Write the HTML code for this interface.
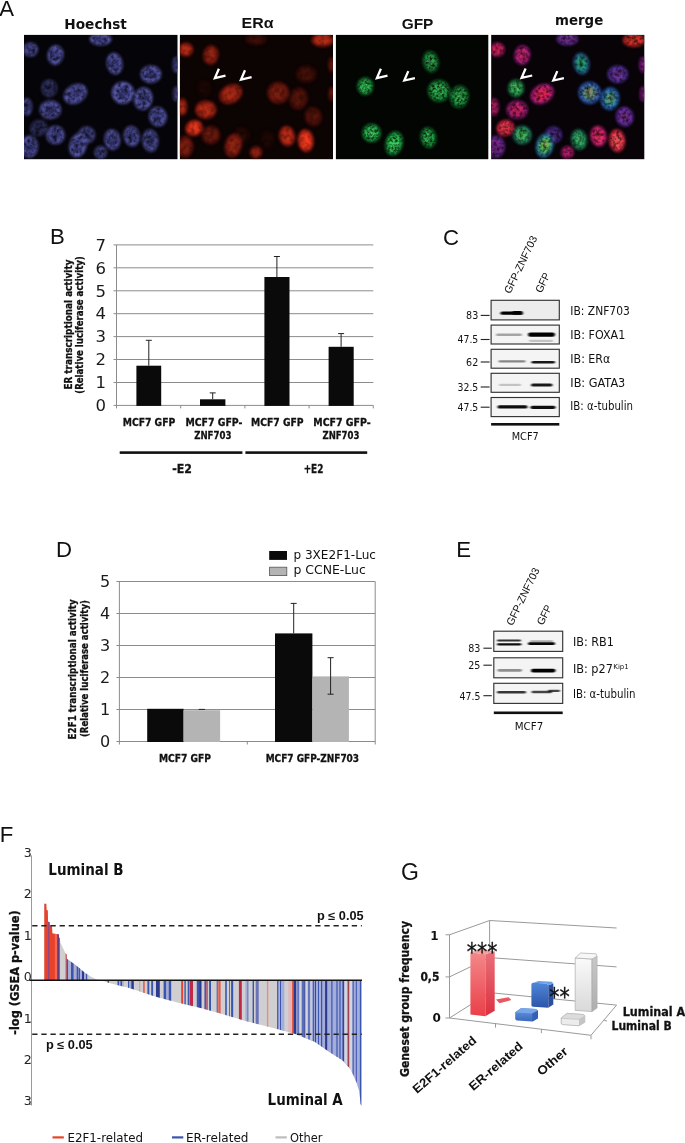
<!DOCTYPE html>
<html lang="en"><head><meta charset="utf-8"><title>Figure</title>
<style>html,body{margin:0;padding:0;background:#fff}svg{display:block}text{white-space:pre}</style>
</head><body>
<svg width="685" height="1143" viewBox="0 0 685 1143">
<rect width="685" height="1143" fill="#fff"/>
<defs><filter id="blh" x="-5%" y="-5%" width="110%" height="110%" color-interpolation-filters="sRGB"><feGaussianBlur stdDeviation="1.4" result="b"/><feTurbulence type="fractalNoise" baseFrequency="0.28" numOctaves="2" seed="4" result="n"/><feColorMatrix in="n" type="matrix" values="0 0 0 0 0  0 0 0 0 0  0 0 0 0 0  1.5 0 0 0 -0.52" result="na"/><feGaussianBlur in="na" stdDeviation="0.6" result="nb"/><feComposite in="nb" in2="b" operator="in" result="d"/><feMerge><feMergeNode in="b"/><feMergeNode in="d"/></feMerge></filter><filter id="blr" x="-5%" y="-5%" width="110%" height="110%" color-interpolation-filters="sRGB"><feGaussianBlur stdDeviation="1.4" result="b"/><feTurbulence type="fractalNoise" baseFrequency="0.2" numOctaves="2" seed="9" result="n"/><feColorMatrix in="n" type="matrix" values="0 0 0 0 0  0 0 0 0 0  0 0 0 0 0  0.9 0 0 0 -0.35" result="na"/><feGaussianBlur in="na" stdDeviation="0.6" result="nb"/><feComposite in="nb" in2="b" operator="in" result="d"/><feMerge><feMergeNode in="b"/><feMergeNode in="d"/></feMerge></filter><filter id="blg" x="-5%" y="-5%" width="110%" height="110%" color-interpolation-filters="sRGB"><feGaussianBlur stdDeviation="1.4" result="b"/><feTurbulence type="fractalNoise" baseFrequency="0.4" numOctaves="2" seed="2" result="n"/><feColorMatrix in="n" type="matrix" values="0 0 0 0 0  0 0 0 0 0  0 0 0 0 0  1.8 0 0 0 -0.62" result="na"/><feGaussianBlur in="na" stdDeviation="0.6" result="nb"/><feComposite in="nb" in2="b" operator="in" result="d"/><feMerge><feMergeNode in="b"/><feMergeNode in="d"/></feMerge></filter><filter id="blm" x="-5%" y="-5%" width="110%" height="110%" color-interpolation-filters="sRGB"><feGaussianBlur stdDeviation="1.4" result="b"/><feTurbulence type="fractalNoise" baseFrequency="0.3" numOctaves="2" seed="6" result="n"/><feColorMatrix in="n" type="matrix" values="0 0 0 0 0  0 0 0 0 0  0 0 0 0 0  1.5 0 0 0 -0.52" result="na"/><feGaussianBlur in="na" stdDeviation="0.6" result="nb"/><feComposite in="nb" in2="b" operator="in" result="d"/><feMerge><feMergeNode in="b"/><feMergeNode in="d"/></feMerge></filter></defs>
<clipPath id="cp0"><rect x="24.0" y="34.9" width="153.5" height="124.3"/></clipPath>
<rect x="24.0" y="34.9" width="153.5" height="124.3" fill="#050409"/>
<g clip-path="url(#cp0)"><g filter="url(#blh)">
<ellipse cx="30.5" cy="49.6" rx="7.3" ry="6.8" fill="rgb(89,89,170)" transform="rotate(0 30.5 49.6)"/>
<ellipse cx="30.5" cy="49.6" rx="5.0" ry="4.6" fill="rgb(61,61,128)" transform="rotate(0 30.5 49.6)"/>
<circle cx="30.7" cy="51.8" r="1.3" fill="#000" opacity="0.22"/>
<circle cx="28.5" cy="48.2" r="1.1" fill="#000" opacity="0.22"/>
<circle cx="33.7" cy="49.9" r="1.2" fill="#000" opacity="0.22"/>
<ellipse cx="55.5" cy="55.0" rx="7.8" ry="9.7" fill="rgb(94,94,180)" transform="rotate(10 55.5 55.0)"/>
<ellipse cx="55.5" cy="55.0" rx="5.3" ry="6.6" fill="rgb(65,65,135)" transform="rotate(10 55.5 55.0)"/>
<circle cx="55.9" cy="59.8" r="1.4" fill="#000" opacity="0.22"/>
<circle cx="56.7" cy="52.6" r="1.5" fill="#000" opacity="0.22"/>
<circle cx="57.2" cy="57.8" r="1.7" fill="#000" opacity="0.22"/>
<ellipse cx="100.6" cy="39.1" rx="10.9" ry="6.1" fill="rgb(94,94,180)" transform="rotate(0 100.6 39.1)"/>
<ellipse cx="100.6" cy="39.1" rx="7.4" ry="4.1" fill="rgb(65,65,135)" transform="rotate(0 100.6 39.1)"/>
<circle cx="96.3" cy="38.8" r="1.5" fill="#000" opacity="0.22"/>
<circle cx="104.7" cy="40.1" r="1.5" fill="#000" opacity="0.22"/>
<circle cx="100.2" cy="39.8" r="1.7" fill="#000" opacity="0.22"/>
<ellipse cx="114.7" cy="63.6" rx="7.8" ry="10.7" fill="rgb(94,94,180)" transform="rotate(-10 114.7 63.6)"/>
<ellipse cx="114.7" cy="63.6" rx="5.3" ry="7.3" fill="rgb(65,65,135)" transform="rotate(-10 114.7 63.6)"/>
<circle cx="111.7" cy="64.3" r="1.7" fill="#000" opacity="0.22"/>
<circle cx="113.8" cy="58.8" r="1.3" fill="#000" opacity="0.22"/>
<circle cx="115.3" cy="60.8" r="1.7" fill="#000" opacity="0.22"/>
<ellipse cx="150.9" cy="74.2" rx="10.2" ry="8.7" fill="rgb(94,94,180)" transform="rotate(0 150.9 74.2)"/>
<ellipse cx="150.9" cy="74.2" rx="6.9" ry="5.9" fill="rgb(65,65,135)" transform="rotate(0 150.9 74.2)"/>
<circle cx="151.9" cy="73.3" r="1.1" fill="#000" opacity="0.22"/>
<circle cx="151.9" cy="78.3" r="1.3" fill="#000" opacity="0.22"/>
<circle cx="149.3" cy="72.8" r="1.4" fill="#000" opacity="0.22"/>
<ellipse cx="176.1" cy="64.8" rx="3.4" ry="7.8" fill="rgb(84,84,160)" transform="rotate(0 176.1 64.8)"/>
<ellipse cx="176.1" cy="64.8" rx="2.3" ry="5.3" fill="rgb(58,58,120)" transform="rotate(0 176.1 64.8)"/>
<circle cx="175.5" cy="66.0" r="1.5" fill="#000" opacity="0.22"/>
<circle cx="174.7" cy="63.0" r="1.5" fill="#000" opacity="0.22"/>
<circle cx="177.5" cy="63.3" r="1.8" fill="#000" opacity="0.22"/>
<ellipse cx="49.2" cy="88.2" rx="7.8" ry="8.7" fill="rgb(58,58,110)" transform="rotate(0 49.2 88.2)"/>
<ellipse cx="49.2" cy="88.2" rx="5.3" ry="5.9" fill="rgb(40,40,82)" transform="rotate(0 49.2 88.2)"/>
<circle cx="48.6" cy="86.9" r="1.7" fill="#000" opacity="0.22"/>
<circle cx="52.7" cy="87.3" r="1.5" fill="#000" opacity="0.22"/>
<circle cx="48.9" cy="86.6" r="1.7" fill="#000" opacity="0.22"/>
<ellipse cx="75.4" cy="94.0" rx="12.1" ry="9.2" fill="rgb(94,94,180)" transform="rotate(-30 75.4 94.0)"/>
<ellipse cx="75.4" cy="94.0" rx="8.3" ry="6.3" fill="rgb(65,65,135)" transform="rotate(-30 75.4 94.0)"/>
<circle cx="73.1" cy="93.1" r="1.1" fill="#000" opacity="0.22"/>
<circle cx="79.1" cy="90.4" r="1.1" fill="#000" opacity="0.22"/>
<circle cx="76.4" cy="91.7" r="1.1" fill="#000" opacity="0.22"/>
<ellipse cx="122.8" cy="92.8" rx="10.9" ry="10.9" fill="rgb(100,100,190)" transform="rotate(0 122.8 92.8)"/>
<ellipse cx="122.8" cy="92.8" rx="7.4" ry="7.4" fill="rgb(68,68,142)" transform="rotate(0 122.8 92.8)"/>
<circle cx="121.6" cy="97.1" r="1.7" fill="#000" opacity="0.22"/>
<circle cx="126.5" cy="93.9" r="1.0" fill="#000" opacity="0.22"/>
<circle cx="122.3" cy="90.4" r="1.7" fill="#000" opacity="0.22"/>
<ellipse cx="143.2" cy="98.7" rx="9.2" ry="11.2" fill="rgb(94,94,180)" transform="rotate(10 143.2 98.7)"/>
<ellipse cx="143.2" cy="98.7" rx="6.3" ry="7.6" fill="rgb(65,65,135)" transform="rotate(10 143.2 98.7)"/>
<circle cx="145.9" cy="98.3" r="1.8" fill="#000" opacity="0.22"/>
<circle cx="142.7" cy="100.0" r="1.5" fill="#000" opacity="0.22"/>
<circle cx="144.8" cy="99.1" r="1.3" fill="#000" opacity="0.22"/>
<ellipse cx="176.1" cy="94.0" rx="2.9" ry="7.3" fill="rgb(84,84,160)" transform="rotate(0 176.1 94.0)"/>
<ellipse cx="176.1" cy="94.0" rx="2.0" ry="5.0" fill="rgb(58,58,120)" transform="rotate(0 176.1 94.0)"/>
<circle cx="175.7" cy="93.3" r="1.0" fill="#000" opacity="0.22"/>
<circle cx="176.5" cy="92.8" r="1.8" fill="#000" opacity="0.22"/>
<circle cx="176.7" cy="92.9" r="1.4" fill="#000" opacity="0.22"/>
<ellipse cx="27.0" cy="106.9" rx="4.9" ry="8.7" fill="rgb(84,84,160)" transform="rotate(0 27.0 106.9)"/>
<ellipse cx="27.0" cy="106.9" rx="3.3" ry="5.9" fill="rgb(58,58,120)" transform="rotate(0 27.0 106.9)"/>
<circle cx="25.3" cy="106.5" r="1.5" fill="#000" opacity="0.22"/>
<circle cx="25.5" cy="105.8" r="1.8" fill="#000" opacity="0.22"/>
<circle cx="25.7" cy="106.8" r="1.6" fill="#000" opacity="0.22"/>
<ellipse cx="50.4" cy="109.7" rx="10.7" ry="9.2" fill="rgb(89,89,170)" transform="rotate(0 50.4 109.7)"/>
<ellipse cx="50.4" cy="109.7" rx="7.3" ry="6.3" fill="rgb(61,61,128)" transform="rotate(0 50.4 109.7)"/>
<circle cx="50.6" cy="111.7" r="1.8" fill="#000" opacity="0.22"/>
<circle cx="47.0" cy="109.3" r="1.0" fill="#000" opacity="0.22"/>
<circle cx="47.3" cy="111.2" r="1.0" fill="#000" opacity="0.22"/>
<ellipse cx="157.9" cy="116.7" rx="8.7" ry="9.7" fill="rgb(94,94,180)" transform="rotate(-15 157.9 116.7)"/>
<ellipse cx="157.9" cy="116.7" rx="5.9" ry="6.6" fill="rgb(65,65,135)" transform="rotate(-15 157.9 116.7)"/>
<circle cx="155.6" cy="114.4" r="1.0" fill="#000" opacity="0.22"/>
<circle cx="156.1" cy="114.7" r="1.5" fill="#000" opacity="0.22"/>
<circle cx="155.9" cy="119.6" r="1.6" fill="#000" opacity="0.22"/>
<ellipse cx="38.7" cy="127.9" rx="8.7" ry="7.8" fill="rgb(52,52,100)" transform="rotate(-20 38.7 127.9)"/>
<ellipse cx="38.7" cy="127.9" rx="5.9" ry="5.3" fill="rgb(36,36,75)" transform="rotate(-20 38.7 127.9)"/>
<circle cx="39.8" cy="128.0" r="1.5" fill="#000" opacity="0.22"/>
<circle cx="40.4" cy="127.5" r="1.4" fill="#000" opacity="0.22"/>
<circle cx="37.1" cy="126.9" r="1.3" fill="#000" opacity="0.22"/>
<ellipse cx="55.5" cy="134.9" rx="9.2" ry="9.2" fill="rgb(89,89,170)" transform="rotate(0 55.5 134.9)"/>
<ellipse cx="55.5" cy="134.9" rx="6.3" ry="6.3" fill="rgb(61,61,128)" transform="rotate(0 55.5 134.9)"/>
<circle cx="54.7" cy="137.0" r="1.5" fill="#000" opacity="0.22"/>
<circle cx="54.8" cy="137.1" r="1.6" fill="#000" opacity="0.22"/>
<circle cx="58.5" cy="135.4" r="1.6" fill="#000" opacity="0.22"/>
<ellipse cx="86.6" cy="134.9" rx="8.5" ry="8.5" fill="rgb(74,74,140)" transform="rotate(0 86.6 134.9)"/>
<ellipse cx="86.6" cy="134.9" rx="5.8" ry="5.8" fill="rgb(50,50,105)" transform="rotate(0 86.6 134.9)"/>
<circle cx="86.0" cy="136.4" r="1.6" fill="#000" opacity="0.22"/>
<circle cx="86.7" cy="136.4" r="1.3" fill="#000" opacity="0.22"/>
<circle cx="86.2" cy="133.8" r="1.3" fill="#000" opacity="0.22"/>
<ellipse cx="78.0" cy="145.4" rx="8.5" ry="12.1" fill="rgb(94,94,180)" transform="rotate(15 78.0 145.4)"/>
<ellipse cx="78.0" cy="145.4" rx="5.8" ry="8.3" fill="rgb(65,65,135)" transform="rotate(15 78.0 145.4)"/>
<circle cx="76.1" cy="150.0" r="1.4" fill="#000" opacity="0.22"/>
<circle cx="78.8" cy="143.8" r="1.3" fill="#000" opacity="0.22"/>
<circle cx="75.7" cy="140.9" r="1.4" fill="#000" opacity="0.22"/>
<ellipse cx="112.3" cy="139.6" rx="7.8" ry="10.2" fill="rgb(89,89,170)" transform="rotate(-10 112.3 139.6)"/>
<ellipse cx="112.3" cy="139.6" rx="5.3" ry="6.9" fill="rgb(61,61,128)" transform="rotate(-10 112.3 139.6)"/>
<circle cx="112.5" cy="141.1" r="1.4" fill="#000" opacity="0.22"/>
<circle cx="113.5" cy="143.6" r="1.7" fill="#000" opacity="0.22"/>
<circle cx="113.0" cy="141.5" r="1.6" fill="#000" opacity="0.22"/>
<ellipse cx="131.7" cy="136.1" rx="7.8" ry="10.2" fill="rgb(89,89,170)" transform="rotate(-10 131.7 136.1)"/>
<ellipse cx="131.7" cy="136.1" rx="5.3" ry="6.9" fill="rgb(61,61,128)" transform="rotate(-10 131.7 136.1)"/>
<circle cx="129.6" cy="132.7" r="1.3" fill="#000" opacity="0.22"/>
<circle cx="132.9" cy="137.7" r="1.6" fill="#000" opacity="0.22"/>
<circle cx="131.5" cy="138.5" r="1.3" fill="#000" opacity="0.22"/>
<ellipse cx="150.4" cy="140.7" rx="7.8" ry="11.2" fill="rgb(84,84,160)" transform="rotate(-5 150.4 140.7)"/>
<ellipse cx="150.4" cy="140.7" rx="5.3" ry="7.6" fill="rgb(58,58,120)" transform="rotate(-5 150.4 140.7)"/>
<circle cx="148.6" cy="142.2" r="1.7" fill="#000" opacity="0.22"/>
<circle cx="150.8" cy="141.7" r="1.8" fill="#000" opacity="0.22"/>
<circle cx="153.2" cy="137.0" r="1.3" fill="#000" opacity="0.22"/>
<ellipse cx="29.4" cy="146.6" rx="8.5" ry="10.9" fill="rgb(89,89,170)" transform="rotate(0 29.4 146.6)"/>
<ellipse cx="29.4" cy="146.6" rx="5.8" ry="7.4" fill="rgb(61,61,128)" transform="rotate(0 29.4 146.6)"/>
<circle cx="33.2" cy="145.0" r="1.2" fill="#000" opacity="0.22"/>
<circle cx="29.3" cy="141.8" r="1.5" fill="#000" opacity="0.22"/>
<circle cx="27.6" cy="146.3" r="1.3" fill="#000" opacity="0.22"/>
<ellipse cx="100.6" cy="152.4" rx="6.1" ry="6.1" fill="rgb(84,84,160)" transform="rotate(0 100.6 152.4)"/>
<ellipse cx="100.6" cy="152.4" rx="4.1" ry="4.1" fill="rgb(58,58,120)" transform="rotate(0 100.6 152.4)"/>
<circle cx="100.7" cy="153.2" r="1.5" fill="#000" opacity="0.22"/>
<circle cx="100.0" cy="154.9" r="1.0" fill="#000" opacity="0.22"/>
<circle cx="102.5" cy="151.1" r="1.7" fill="#000" opacity="0.22"/>
</g>
</g>
<clipPath id="cp1"><rect x="179.9" y="34.9" width="153.1" height="124.3"/></clipPath>
<rect x="179.9" y="34.9" width="153.1" height="124.3" fill="#0c0303"/>
<g clip-path="url(#cp1)"><g filter="url(#blr)">
<ellipse cx="185.9" cy="49.6" rx="7.3" ry="6.8" fill="rgb(142,28,16)" transform="rotate(0 185.9 49.6)"/>
<ellipse cx="185.9" cy="49.6" rx="5.0" ry="4.6" fill="rgb(180,44,22)" transform="rotate(0 185.9 49.6)"/>
<ellipse cx="210.9" cy="55.0" rx="7.8" ry="9.7" fill="rgb(114,23,13)" transform="rotate(10 210.9 55.0)"/>
<ellipse cx="210.9" cy="55.0" rx="5.3" ry="6.6" fill="rgb(144,35,18)" transform="rotate(10 210.9 55.0)"/>
<ellipse cx="256.0" cy="39.1" rx="10.9" ry="6.1" fill="rgb(48,10,6)" transform="rotate(0 256.0 39.1)"/>
<ellipse cx="256.0" cy="39.1" rx="7.4" ry="4.1" fill="rgb(60,14,8)" transform="rotate(0 256.0 39.1)"/>
<ellipse cx="306.3" cy="74.2" rx="10.2" ry="8.7" fill="rgb(53,11,6)" transform="rotate(0 306.3 74.2)"/>
<ellipse cx="306.3" cy="74.2" rx="6.9" ry="5.9" fill="rgb(67,16,8)" transform="rotate(0 306.3 74.2)"/>
<ellipse cx="331.5" cy="64.8" rx="3.4" ry="7.8" fill="rgb(76,15,9)" transform="rotate(0 331.5 64.8)"/>
<ellipse cx="331.5" cy="64.8" rx="2.3" ry="5.3" fill="rgb(96,23,12)" transform="rotate(0 331.5 64.8)"/>
<ellipse cx="204.6" cy="88.2" rx="7.8" ry="8.7" fill="rgb(23,5,3)" transform="rotate(0 204.6 88.2)"/>
<ellipse cx="204.6" cy="88.2" rx="5.3" ry="5.9" fill="rgb(29,7,4)" transform="rotate(0 204.6 88.2)"/>
<ellipse cx="230.8" cy="94.0" rx="12.1" ry="9.2" fill="rgb(133,27,15)" transform="rotate(-30 230.8 94.0)"/>
<ellipse cx="230.8" cy="94.0" rx="8.3" ry="6.3" fill="rgb(168,41,21)" transform="rotate(-30 230.8 94.0)"/>
<ellipse cx="278.2" cy="92.8" rx="10.9" ry="10.9" fill="rgb(95,19,11)" transform="rotate(0 278.2 92.8)"/>
<ellipse cx="278.2" cy="92.8" rx="7.4" ry="7.4" fill="rgb(120,29,15)" transform="rotate(0 278.2 92.8)"/>
<ellipse cx="298.6" cy="98.7" rx="9.2" ry="11.2" fill="rgb(66,13,8)" transform="rotate(10 298.6 98.7)"/>
<ellipse cx="298.6" cy="98.7" rx="6.3" ry="7.6" fill="rgb(84,20,10)" transform="rotate(10 298.6 98.7)"/>
<ellipse cx="331.5" cy="94.0" rx="2.9" ry="7.3" fill="rgb(86,17,10)" transform="rotate(0 331.5 94.0)"/>
<ellipse cx="331.5" cy="94.0" rx="2.0" ry="5.0" fill="rgb(108,26,14)" transform="rotate(0 331.5 94.0)"/>
<ellipse cx="182.4" cy="106.9" rx="4.9" ry="8.7" fill="rgb(133,27,15)" transform="rotate(0 182.4 106.9)"/>
<ellipse cx="182.4" cy="106.9" rx="3.3" ry="5.9" fill="rgb(168,41,21)" transform="rotate(0 182.4 106.9)"/>
<ellipse cx="205.8" cy="109.7" rx="10.7" ry="9.2" fill="rgb(142,28,16)" transform="rotate(0 205.8 109.7)"/>
<ellipse cx="205.8" cy="109.7" rx="7.3" ry="6.3" fill="rgb(180,44,22)" transform="rotate(0 205.8 109.7)"/>
<ellipse cx="313.3" cy="116.7" rx="8.7" ry="9.7" fill="rgb(66,13,8)" transform="rotate(-15 313.3 116.7)"/>
<ellipse cx="313.3" cy="116.7" rx="5.9" ry="6.6" fill="rgb(84,20,10)" transform="rotate(-15 313.3 116.7)"/>
<ellipse cx="194.1" cy="127.9" rx="8.7" ry="7.8" fill="rgb(180,36,21)" transform="rotate(-20 194.1 127.9)"/>
<ellipse cx="194.1" cy="127.9" rx="5.9" ry="5.3" fill="rgb(228,55,28)" transform="rotate(-20 194.1 127.9)"/>
<ellipse cx="210.9" cy="134.9" rx="9.2" ry="9.2" fill="rgb(86,17,10)" transform="rotate(0 210.9 134.9)"/>
<ellipse cx="210.9" cy="134.9" rx="6.3" ry="6.3" fill="rgb(108,26,14)" transform="rotate(0 210.9 134.9)"/>
<ellipse cx="242.0" cy="134.9" rx="8.5" ry="8.5" fill="rgb(28,6,3)" transform="rotate(0 242.0 134.9)"/>
<ellipse cx="242.0" cy="134.9" rx="5.8" ry="5.8" fill="rgb(36,9,4)" transform="rotate(0 242.0 134.9)"/>
<ellipse cx="233.4" cy="145.4" rx="8.5" ry="12.1" fill="rgb(114,23,13)" transform="rotate(15 233.4 145.4)"/>
<ellipse cx="233.4" cy="145.4" rx="5.8" ry="8.3" fill="rgb(144,35,18)" transform="rotate(15 233.4 145.4)"/>
<ellipse cx="267.7" cy="139.6" rx="7.8" ry="10.2" fill="rgb(23,5,3)" transform="rotate(-10 267.7 139.6)"/>
<ellipse cx="267.7" cy="139.6" rx="5.3" ry="6.9" fill="rgb(29,7,4)" transform="rotate(-10 267.7 139.6)"/>
<ellipse cx="287.1" cy="136.1" rx="7.8" ry="10.2" fill="rgb(152,30,18)" transform="rotate(-10 287.1 136.1)"/>
<ellipse cx="287.1" cy="136.1" rx="5.3" ry="6.9" fill="rgb(192,46,24)" transform="rotate(-10 287.1 136.1)"/>
<ellipse cx="305.8" cy="140.7" rx="7.8" ry="11.2" fill="rgb(190,38,22)" transform="rotate(-5 305.8 140.7)"/>
<ellipse cx="305.8" cy="140.7" rx="5.3" ry="7.6" fill="rgb(240,58,30)" transform="rotate(-5 305.8 140.7)"/>
<ellipse cx="184.8" cy="146.6" rx="8.5" ry="10.9" fill="rgb(95,19,11)" transform="rotate(0 184.8 146.6)"/>
<ellipse cx="184.8" cy="146.6" rx="5.8" ry="7.4" fill="rgb(120,29,15)" transform="rotate(0 184.8 146.6)"/>
<ellipse cx="256.0" cy="152.4" rx="6.1" ry="6.1" fill="rgb(114,23,13)" transform="rotate(0 256.0 152.4)"/>
<ellipse cx="256.0" cy="152.4" rx="4.1" ry="4.1" fill="rgb(144,35,18)" transform="rotate(0 256.0 152.4)"/>
<ellipse cx="322.6" cy="40.0" rx="11.2" ry="6.8" fill="rgb(142,28,16)" transform="rotate(0 322.6 40.0)"/>
<ellipse cx="322.6" cy="40.0" rx="7.6" ry="4.6" fill="rgb(180,44,22)" transform="rotate(0 322.6 40.0)"/>
</g>
<polyline points="218.9,68.7 214.9,78.1 225.5,75.7" fill="none" stroke="#fff" stroke-width="2.3" stroke-linejoin="miter"/>
<polyline points="245.0,70.2 241.0,79.6 251.6,77.2" fill="none" stroke="#fff" stroke-width="2.3" stroke-linejoin="miter"/>
</g>
<clipPath id="cp2"><rect x="335.9" y="34.9" width="152.4" height="124.3"/></clipPath>
<rect x="335.9" y="34.9" width="152.4" height="124.3" fill="#020502"/>
<g clip-path="url(#cp2)"><g filter="url(#blg)">
<ellipse cx="430.8" cy="61.6" rx="7.8" ry="10.7" fill="rgb(19,112,45)" transform="rotate(-10 430.8 61.6)"/>
<ellipse cx="430.8" cy="61.6" rx="5.3" ry="7.3" fill="rgb(38,150,68)" transform="rotate(-10 430.8 61.6)"/>
<circle cx="431.0" cy="66.0" r="0.8" fill="#8f8" opacity="0.5"/>
<circle cx="428.3" cy="65.2" r="0.8" fill="#8f8" opacity="0.5"/>
<circle cx="430.5" cy="61.3" r="0.8" fill="#8f8" opacity="0.5"/>
<circle cx="435.6" cy="62.2" r="0.8" fill="#8f8" opacity="0.5"/>
<circle cx="430.7" cy="63.5" r="0.8" fill="#8f8" opacity="0.5"/>
<circle cx="433.5" cy="61.5" r="0.8" fill="#8f8" opacity="0.5"/>
<circle cx="432.2" cy="58.4" r="0.8" fill="#8f8" opacity="0.5"/>
<circle cx="430.2" cy="60.7" r="0.8" fill="#8f8" opacity="0.5"/>
<circle cx="427.4" cy="56.4" r="0.8" fill="#8f8" opacity="0.5"/>
<circle cx="426.5" cy="60.8" r="0.8" fill="#8f8" opacity="0.5"/>
<ellipse cx="365.3" cy="86.2" rx="7.8" ry="8.7" fill="rgb(24,142,57)" transform="rotate(0 365.3 86.2)"/>
<ellipse cx="365.3" cy="86.2" rx="5.3" ry="5.9" fill="rgb(48,190,86)" transform="rotate(0 365.3 86.2)"/>
<circle cx="365.2" cy="85.8" r="0.8" fill="#8f8" opacity="0.5"/>
<circle cx="365.5" cy="82.3" r="0.8" fill="#8f8" opacity="0.5"/>
<circle cx="365.3" cy="86.4" r="0.8" fill="#8f8" opacity="0.5"/>
<circle cx="367.2" cy="83.9" r="0.8" fill="#8f8" opacity="0.5"/>
<circle cx="364.3" cy="80.5" r="0.8" fill="#8f8" opacity="0.5"/>
<circle cx="364.1" cy="80.3" r="0.8" fill="#8f8" opacity="0.5"/>
<circle cx="361.6" cy="89.4" r="0.8" fill="#8f8" opacity="0.5"/>
<circle cx="360.2" cy="88.3" r="0.8" fill="#8f8" opacity="0.5"/>
<circle cx="365.7" cy="85.7" r="0.8" fill="#8f8" opacity="0.5"/>
<circle cx="366.2" cy="87.2" r="0.8" fill="#8f8" opacity="0.5"/>
<ellipse cx="438.9" cy="90.8" rx="10.9" ry="10.9" fill="rgb(21,128,51)" transform="rotate(0 438.9 90.8)"/>
<ellipse cx="438.9" cy="90.8" rx="7.4" ry="7.4" fill="rgb(42,170,76)" transform="rotate(0 438.9 90.8)"/>
<circle cx="442.4" cy="90.1" r="0.8" fill="#8f8" opacity="0.5"/>
<circle cx="437.2" cy="89.1" r="0.8" fill="#8f8" opacity="0.5"/>
<circle cx="435.8" cy="90.7" r="0.8" fill="#8f8" opacity="0.5"/>
<circle cx="436.1" cy="94.7" r="0.8" fill="#8f8" opacity="0.5"/>
<circle cx="432.5" cy="87.1" r="0.8" fill="#8f8" opacity="0.5"/>
<circle cx="435.8" cy="83.9" r="0.8" fill="#8f8" opacity="0.5"/>
<circle cx="444.0" cy="84.5" r="0.8" fill="#8f8" opacity="0.5"/>
<circle cx="438.3" cy="89.7" r="0.8" fill="#8f8" opacity="0.5"/>
<circle cx="444.0" cy="84.8" r="0.8" fill="#8f8" opacity="0.5"/>
<circle cx="442.8" cy="88.2" r="0.8" fill="#8f8" opacity="0.5"/>
<ellipse cx="459.3" cy="96.7" rx="9.2" ry="11.2" fill="rgb(20,120,48)" transform="rotate(10 459.3 96.7)"/>
<ellipse cx="459.3" cy="96.7" rx="6.3" ry="7.6" fill="rgb(40,160,72)" transform="rotate(10 459.3 96.7)"/>
<circle cx="458.9" cy="95.0" r="0.8" fill="#8f8" opacity="0.5"/>
<circle cx="461.2" cy="92.5" r="0.8" fill="#8f8" opacity="0.5"/>
<circle cx="459.2" cy="97.2" r="0.8" fill="#8f8" opacity="0.5"/>
<circle cx="463.4" cy="90.1" r="0.8" fill="#8f8" opacity="0.5"/>
<circle cx="464.0" cy="100.2" r="0.8" fill="#8f8" opacity="0.5"/>
<circle cx="458.4" cy="97.4" r="0.8" fill="#8f8" opacity="0.5"/>
<circle cx="457.8" cy="102.9" r="0.8" fill="#8f8" opacity="0.5"/>
<circle cx="459.5" cy="96.4" r="0.8" fill="#8f8" opacity="0.5"/>
<circle cx="459.0" cy="96.4" r="0.8" fill="#8f8" opacity="0.5"/>
<circle cx="458.8" cy="94.0" r="0.8" fill="#8f8" opacity="0.5"/>
<ellipse cx="371.6" cy="132.9" rx="9.2" ry="9.2" fill="rgb(24,142,57)" transform="rotate(0 371.6 132.9)"/>
<ellipse cx="371.6" cy="132.9" rx="6.3" ry="6.3" fill="rgb(48,190,86)" transform="rotate(0 371.6 132.9)"/>
<circle cx="376.6" cy="128.3" r="0.8" fill="#8f8" opacity="0.5"/>
<circle cx="364.7" cy="132.7" r="0.8" fill="#8f8" opacity="0.5"/>
<circle cx="371.4" cy="133.4" r="0.8" fill="#8f8" opacity="0.5"/>
<circle cx="371.5" cy="132.8" r="0.8" fill="#8f8" opacity="0.5"/>
<circle cx="372.6" cy="135.6" r="0.8" fill="#8f8" opacity="0.5"/>
<circle cx="370.8" cy="132.2" r="0.8" fill="#8f8" opacity="0.5"/>
<circle cx="377.4" cy="134.5" r="0.8" fill="#8f8" opacity="0.5"/>
<circle cx="369.0" cy="139.0" r="0.8" fill="#8f8" opacity="0.5"/>
<circle cx="373.7" cy="131.3" r="0.8" fill="#8f8" opacity="0.5"/>
<circle cx="368.2" cy="133.8" r="0.8" fill="#8f8" opacity="0.5"/>
<ellipse cx="394.1" cy="143.4" rx="8.5" ry="12.1" fill="rgb(25,150,60)" transform="rotate(15 394.1 143.4)"/>
<ellipse cx="394.1" cy="143.4" rx="5.8" ry="8.3" fill="rgb(50,200,90)" transform="rotate(15 394.1 143.4)"/>
<circle cx="391.7" cy="139.1" r="0.8" fill="#8f8" opacity="0.5"/>
<circle cx="390.4" cy="141.4" r="0.8" fill="#8f8" opacity="0.5"/>
<circle cx="397.1" cy="141.7" r="0.8" fill="#8f8" opacity="0.5"/>
<circle cx="389.9" cy="146.2" r="0.8" fill="#8f8" opacity="0.5"/>
<circle cx="394.2" cy="146.1" r="0.8" fill="#8f8" opacity="0.5"/>
<circle cx="397.4" cy="142.8" r="0.8" fill="#8f8" opacity="0.5"/>
<circle cx="394.0" cy="143.4" r="0.8" fill="#8f8" opacity="0.5"/>
<circle cx="390.9" cy="146.1" r="0.8" fill="#8f8" opacity="0.5"/>
<circle cx="398.0" cy="144.1" r="0.8" fill="#8f8" opacity="0.5"/>
<circle cx="393.8" cy="143.0" r="0.8" fill="#8f8" opacity="0.5"/>
<ellipse cx="428.4" cy="137.6" rx="7.8" ry="10.2" fill="rgb(21,128,51)" transform="rotate(-10 428.4 137.6)"/>
<ellipse cx="428.4" cy="137.6" rx="5.3" ry="6.9" fill="rgb(42,170,76)" transform="rotate(-10 428.4 137.6)"/>
<circle cx="426.5" cy="135.0" r="0.8" fill="#8f8" opacity="0.5"/>
<circle cx="427.5" cy="135.1" r="0.8" fill="#8f8" opacity="0.5"/>
<circle cx="427.3" cy="132.1" r="0.8" fill="#8f8" opacity="0.5"/>
<circle cx="428.8" cy="137.6" r="0.8" fill="#8f8" opacity="0.5"/>
<circle cx="425.9" cy="131.0" r="0.8" fill="#8f8" opacity="0.5"/>
<circle cx="428.4" cy="141.1" r="0.8" fill="#8f8" opacity="0.5"/>
<circle cx="426.9" cy="136.2" r="0.8" fill="#8f8" opacity="0.5"/>
<circle cx="427.2" cy="139.4" r="0.8" fill="#8f8" opacity="0.5"/>
<circle cx="426.1" cy="140.9" r="0.8" fill="#8f8" opacity="0.5"/>
<circle cx="427.7" cy="140.3" r="0.8" fill="#8f8" opacity="0.5"/>
</g>
<polyline points="380.9,68.7 376.9,78.1 387.5,75.7" fill="none" stroke="#fff" stroke-width="2.3" stroke-linejoin="miter"/>
<polyline points="408.3,71.1 404.3,80.5 414.9,78.1" fill="none" stroke="#fff" stroke-width="2.3" stroke-linejoin="miter"/>
</g>
<clipPath id="cp3"><rect x="491.2" y="34.9" width="153.1" height="124.3"/></clipPath>
<rect x="491.2" y="34.9" width="153.1" height="124.3" fill="#070307"/>
<g clip-path="url(#cp3)"><g filter="url(#blm)">
<ellipse cx="497.3" cy="49.6" rx="7.3" ry="6.8" fill="rgb(185,30,110)" transform="rotate(0 497.3 49.6)"/>
<ellipse cx="497.3" cy="49.6" rx="5.0" ry="4.6" fill="rgb(215,35,90)" transform="rotate(0 497.3 49.6)"/>
<circle cx="497.5" cy="51.8" r="1.3" fill="#000" opacity="0.22"/>
<circle cx="495.3" cy="48.2" r="1.1" fill="#000" opacity="0.22"/>
<circle cx="500.5" cy="49.9" r="1.2" fill="#000" opacity="0.22"/>
<ellipse cx="522.3" cy="55.0" rx="7.8" ry="9.7" fill="rgb(165,30,130)" transform="rotate(10 522.3 55.0)"/>
<ellipse cx="522.3" cy="55.0" rx="5.3" ry="6.6" fill="rgb(200,40,110)" transform="rotate(10 522.3 55.0)"/>
<circle cx="522.7" cy="59.8" r="1.4" fill="#000" opacity="0.22"/>
<circle cx="523.5" cy="52.6" r="1.5" fill="#000" opacity="0.22"/>
<circle cx="524.0" cy="57.8" r="1.7" fill="#000" opacity="0.22"/>
<ellipse cx="567.4" cy="39.1" rx="10.9" ry="6.1" fill="rgb(100,45,150)" transform="rotate(0 567.4 39.1)"/>
<ellipse cx="567.4" cy="39.1" rx="7.4" ry="4.1" fill="rgb(120,50,150)" transform="rotate(0 567.4 39.1)"/>
<circle cx="563.1" cy="38.8" r="1.5" fill="#000" opacity="0.22"/>
<circle cx="571.5" cy="40.1" r="1.5" fill="#000" opacity="0.22"/>
<circle cx="567.0" cy="39.8" r="1.7" fill="#000" opacity="0.22"/>
<ellipse cx="581.5" cy="63.6" rx="7.8" ry="10.7" fill="rgb(40,105,160)" transform="rotate(-10 581.5 63.6)"/>
<ellipse cx="581.5" cy="63.6" rx="5.3" ry="7.3" fill="rgb(30,150,110)" transform="rotate(-10 581.5 63.6)"/>
<circle cx="578.5" cy="64.3" r="1.7" fill="#000" opacity="0.22"/>
<circle cx="580.6" cy="58.8" r="1.3" fill="#000" opacity="0.22"/>
<circle cx="582.1" cy="60.8" r="1.7" fill="#000" opacity="0.22"/>
<circle cx="581.9" cy="63.1" r="0.8" fill="#8f8" opacity="0.5"/>
<circle cx="582.3" cy="65.0" r="0.8" fill="#8f8" opacity="0.5"/>
<circle cx="583.9" cy="62.9" r="0.8" fill="#8f8" opacity="0.5"/>
<circle cx="580.2" cy="61.9" r="0.8" fill="#8f8" opacity="0.5"/>
<circle cx="579.2" cy="63.5" r="0.8" fill="#8f8" opacity="0.5"/>
<circle cx="579.4" cy="67.4" r="0.8" fill="#8f8" opacity="0.5"/>
<circle cx="576.9" cy="60.0" r="0.8" fill="#8f8" opacity="0.5"/>
<circle cx="579.2" cy="56.9" r="0.8" fill="#8f8" opacity="0.5"/>
<circle cx="585.0" cy="57.4" r="0.8" fill="#8f8" opacity="0.5"/>
<circle cx="581.0" cy="62.5" r="0.8" fill="#8f8" opacity="0.5"/>
<ellipse cx="617.7" cy="74.2" rx="10.2" ry="8.7" fill="rgb(85,50,165)" transform="rotate(0 617.7 74.2)"/>
<ellipse cx="617.7" cy="74.2" rx="6.9" ry="5.9" fill="rgb(105,50,150)" transform="rotate(0 617.7 74.2)"/>
<circle cx="620.8" cy="70.9" r="1.7" fill="#000" opacity="0.22"/>
<circle cx="614.1" cy="72.7" r="1.2" fill="#000" opacity="0.22"/>
<circle cx="619.3" cy="71.6" r="1.2" fill="#000" opacity="0.22"/>
<ellipse cx="642.9" cy="64.8" rx="3.4" ry="7.8" fill="rgb(150,30,150)" transform="rotate(0 642.9 64.8)"/>
<ellipse cx="642.9" cy="64.8" rx="2.3" ry="5.3" fill="rgb(150,30,150)" transform="rotate(0 642.9 64.8)"/>
<circle cx="644.3" cy="66.1" r="1.8" fill="#000" opacity="0.22"/>
<circle cx="644.1" cy="66.5" r="1.3" fill="#000" opacity="0.22"/>
<circle cx="643.3" cy="66.2" r="1.6" fill="#000" opacity="0.22"/>
<ellipse cx="516.0" cy="88.2" rx="7.8" ry="8.7" fill="rgb(30,135,70)" transform="rotate(0 516.0 88.2)"/>
<ellipse cx="516.0" cy="88.2" rx="5.3" ry="5.9" fill="rgb(60,190,95)" transform="rotate(0 516.0 88.2)"/>
<circle cx="516.7" cy="87.4" r="1.5" fill="#000" opacity="0.22"/>
<circle cx="518.9" cy="89.1" r="1.3" fill="#000" opacity="0.22"/>
<circle cx="518.8" cy="85.2" r="1.4" fill="#000" opacity="0.22"/>
<circle cx="517.8" cy="88.2" r="0.8" fill="#8f8" opacity="0.5"/>
<circle cx="519.1" cy="90.0" r="0.8" fill="#8f8" opacity="0.5"/>
<circle cx="517.2" cy="88.4" r="0.8" fill="#8f8" opacity="0.5"/>
<circle cx="513.1" cy="90.4" r="0.8" fill="#8f8" opacity="0.5"/>
<circle cx="516.2" cy="88.4" r="0.8" fill="#8f8" opacity="0.5"/>
<circle cx="517.3" cy="86.7" r="0.8" fill="#8f8" opacity="0.5"/>
<circle cx="521.1" cy="86.7" r="0.8" fill="#8f8" opacity="0.5"/>
<circle cx="514.1" cy="90.3" r="0.8" fill="#8f8" opacity="0.5"/>
<circle cx="512.3" cy="87.6" r="0.8" fill="#8f8" opacity="0.5"/>
<circle cx="513.3" cy="86.1" r="0.8" fill="#8f8" opacity="0.5"/>
<ellipse cx="542.2" cy="94.0" rx="12.1" ry="9.2" fill="rgb(185,30,130)" transform="rotate(-30 542.2 94.0)"/>
<ellipse cx="542.2" cy="94.0" rx="8.3" ry="6.3" fill="rgb(225,35,85)" transform="rotate(-30 542.2 94.0)"/>
<circle cx="538.0" cy="91.0" r="1.4" fill="#000" opacity="0.22"/>
<circle cx="537.9" cy="95.5" r="1.2" fill="#000" opacity="0.22"/>
<circle cx="540.3" cy="98.3" r="1.4" fill="#000" opacity="0.22"/>
<ellipse cx="589.6" cy="92.8" rx="10.9" ry="10.9" fill="rgb(50,100,200)" transform="rotate(0 589.6 92.8)"/>
<ellipse cx="589.6" cy="92.8" rx="7.4" ry="7.4" fill="rgb(100,135,120)" transform="rotate(0 589.6 92.8)"/>
<circle cx="588.5" cy="92.5" r="1.3" fill="#000" opacity="0.22"/>
<circle cx="588.6" cy="92.3" r="1.5" fill="#000" opacity="0.22"/>
<circle cx="588.7" cy="91.8" r="1.5" fill="#000" opacity="0.22"/>
<circle cx="584.2" cy="94.0" r="0.8" fill="#8f8" opacity="0.5"/>
<circle cx="586.1" cy="97.5" r="0.8" fill="#8f8" opacity="0.5"/>
<circle cx="589.6" cy="92.7" r="0.8" fill="#8f8" opacity="0.5"/>
<circle cx="594.8" cy="94.9" r="0.8" fill="#8f8" opacity="0.5"/>
<circle cx="591.6" cy="92.4" r="0.8" fill="#8f8" opacity="0.5"/>
<circle cx="585.0" cy="94.2" r="0.8" fill="#8f8" opacity="0.5"/>
<circle cx="588.4" cy="95.5" r="0.8" fill="#8f8" opacity="0.5"/>
<circle cx="588.5" cy="95.6" r="0.8" fill="#8f8" opacity="0.5"/>
<circle cx="587.6" cy="91.5" r="0.8" fill="#8f8" opacity="0.5"/>
<circle cx="585.1" cy="97.3" r="0.8" fill="#8f8" opacity="0.5"/>
<circle cx="589.6" cy="91.8" r="1.8" fill="#d84" opacity="0.8"/>
<ellipse cx="610.0" cy="98.7" rx="9.2" ry="11.2" fill="rgb(40,105,200)" transform="rotate(10 610.0 98.7)"/>
<ellipse cx="610.0" cy="98.7" rx="6.3" ry="7.6" fill="rgb(65,150,140)" transform="rotate(10 610.0 98.7)"/>
<circle cx="612.9" cy="99.3" r="1.6" fill="#000" opacity="0.22"/>
<circle cx="609.3" cy="100.6" r="1.6" fill="#000" opacity="0.22"/>
<circle cx="610.1" cy="100.6" r="1.3" fill="#000" opacity="0.22"/>
<circle cx="609.7" cy="97.9" r="0.8" fill="#8f8" opacity="0.5"/>
<circle cx="608.9" cy="101.2" r="0.8" fill="#8f8" opacity="0.5"/>
<circle cx="611.5" cy="95.5" r="0.8" fill="#8f8" opacity="0.5"/>
<circle cx="610.7" cy="97.6" r="0.8" fill="#8f8" opacity="0.5"/>
<circle cx="607.6" cy="103.3" r="0.8" fill="#8f8" opacity="0.5"/>
<circle cx="612.3" cy="96.2" r="0.8" fill="#8f8" opacity="0.5"/>
<circle cx="610.1" cy="99.7" r="0.8" fill="#8f8" opacity="0.5"/>
<circle cx="608.7" cy="98.4" r="0.8" fill="#8f8" opacity="0.5"/>
<circle cx="612.0" cy="92.1" r="0.8" fill="#8f8" opacity="0.5"/>
<circle cx="610.7" cy="100.8" r="0.8" fill="#8f8" opacity="0.5"/>
<circle cx="610.0" cy="97.7" r="1.8" fill="#d84" opacity="0.8"/>
<ellipse cx="642.9" cy="94.0" rx="2.9" ry="7.3" fill="rgb(150,30,150)" transform="rotate(0 642.9 94.0)"/>
<ellipse cx="642.9" cy="94.0" rx="2.0" ry="5.0" fill="rgb(150,30,150)" transform="rotate(0 642.9 94.0)"/>
<circle cx="643.3" cy="91.6" r="1.6" fill="#000" opacity="0.22"/>
<circle cx="642.7" cy="94.9" r="1.2" fill="#000" opacity="0.22"/>
<circle cx="643.1" cy="92.5" r="1.3" fill="#000" opacity="0.22"/>
<ellipse cx="493.8" cy="106.9" rx="4.9" ry="8.7" fill="rgb(170,30,110)" transform="rotate(0 493.8 106.9)"/>
<ellipse cx="493.8" cy="106.9" rx="3.3" ry="5.9" fill="rgb(180,30,100)" transform="rotate(0 493.8 106.9)"/>
<circle cx="492.7" cy="108.0" r="1.3" fill="#000" opacity="0.22"/>
<circle cx="494.5" cy="106.2" r="1.0" fill="#000" opacity="0.22"/>
<circle cx="495.9" cy="105.5" r="1.8" fill="#000" opacity="0.22"/>
<ellipse cx="517.2" cy="109.7" rx="10.7" ry="9.2" fill="rgb(150,30,120)" transform="rotate(0 517.2 109.7)"/>
<ellipse cx="517.2" cy="109.7" rx="7.3" ry="6.3" fill="rgb(200,35,100)" transform="rotate(0 517.2 109.7)"/>
<circle cx="512.5" cy="111.4" r="1.7" fill="#000" opacity="0.22"/>
<circle cx="517.9" cy="113.3" r="1.7" fill="#000" opacity="0.22"/>
<circle cx="515.5" cy="107.2" r="1.2" fill="#000" opacity="0.22"/>
<ellipse cx="624.7" cy="116.7" rx="8.7" ry="9.7" fill="rgb(100,45,165)" transform="rotate(-15 624.7 116.7)"/>
<ellipse cx="624.7" cy="116.7" rx="5.9" ry="6.6" fill="rgb(120,50,150)" transform="rotate(-15 624.7 116.7)"/>
<circle cx="623.8" cy="118.2" r="1.1" fill="#000" opacity="0.22"/>
<circle cx="623.1" cy="115.6" r="1.6" fill="#000" opacity="0.22"/>
<circle cx="628.6" cy="117.9" r="1.6" fill="#000" opacity="0.22"/>
<ellipse cx="505.5" cy="127.9" rx="8.7" ry="7.8" fill="rgb(230,40,75)" transform="rotate(-20 505.5 127.9)"/>
<ellipse cx="505.5" cy="127.9" rx="5.9" ry="5.3" fill="rgb(245,60,80)" transform="rotate(-20 505.5 127.9)"/>
<circle cx="509.1" cy="126.2" r="1.7" fill="#000" opacity="0.22"/>
<circle cx="504.7" cy="127.5" r="1.6" fill="#000" opacity="0.22"/>
<circle cx="506.4" cy="129.4" r="1.5" fill="#000" opacity="0.22"/>
<ellipse cx="522.3" cy="134.9" rx="9.2" ry="9.2" fill="rgb(30,130,100)" transform="rotate(0 522.3 134.9)"/>
<ellipse cx="522.3" cy="134.9" rx="6.3" ry="6.3" fill="rgb(60,175,90)" transform="rotate(0 522.3 134.9)"/>
<circle cx="519.9" cy="134.5" r="1.8" fill="#000" opacity="0.22"/>
<circle cx="520.7" cy="133.5" r="1.2" fill="#000" opacity="0.22"/>
<circle cx="524.1" cy="132.8" r="1.6" fill="#000" opacity="0.22"/>
<circle cx="521.5" cy="136.0" r="0.8" fill="#8f8" opacity="0.5"/>
<circle cx="516.8" cy="133.7" r="0.8" fill="#8f8" opacity="0.5"/>
<circle cx="524.9" cy="139.7" r="0.8" fill="#8f8" opacity="0.5"/>
<circle cx="527.3" cy="132.3" r="0.8" fill="#8f8" opacity="0.5"/>
<circle cx="522.4" cy="134.9" r="0.8" fill="#8f8" opacity="0.5"/>
<circle cx="518.2" cy="130.6" r="0.8" fill="#8f8" opacity="0.5"/>
<circle cx="524.1" cy="135.5" r="0.8" fill="#8f8" opacity="0.5"/>
<circle cx="521.9" cy="138.5" r="0.8" fill="#8f8" opacity="0.5"/>
<circle cx="519.4" cy="136.4" r="0.8" fill="#8f8" opacity="0.5"/>
<circle cx="522.3" cy="134.9" r="0.8" fill="#8f8" opacity="0.5"/>
<ellipse cx="553.4" cy="134.9" rx="8.5" ry="8.5" fill="rgb(70,40,140)" transform="rotate(0 553.4 134.9)"/>
<ellipse cx="553.4" cy="134.9" rx="5.8" ry="5.8" fill="rgb(80,40,130)" transform="rotate(0 553.4 134.9)"/>
<circle cx="554.6" cy="135.3" r="1.1" fill="#000" opacity="0.22"/>
<circle cx="557.2" cy="136.6" r="1.7" fill="#000" opacity="0.22"/>
<circle cx="555.6" cy="136.2" r="1.3" fill="#000" opacity="0.22"/>
<ellipse cx="544.8" cy="145.4" rx="8.5" ry="12.1" fill="rgb(40,130,170)" transform="rotate(15 544.8 145.4)"/>
<ellipse cx="544.8" cy="145.4" rx="5.8" ry="8.3" fill="rgb(90,190,90)" transform="rotate(15 544.8 145.4)"/>
<circle cx="544.0" cy="148.1" r="1.5" fill="#000" opacity="0.22"/>
<circle cx="543.0" cy="143.9" r="1.2" fill="#000" opacity="0.22"/>
<circle cx="544.2" cy="147.0" r="1.4" fill="#000" opacity="0.22"/>
<circle cx="544.3" cy="142.0" r="0.8" fill="#8f8" opacity="0.5"/>
<circle cx="545.8" cy="146.2" r="0.8" fill="#8f8" opacity="0.5"/>
<circle cx="542.1" cy="149.4" r="0.8" fill="#8f8" opacity="0.5"/>
<circle cx="545.3" cy="142.0" r="0.8" fill="#8f8" opacity="0.5"/>
<circle cx="546.0" cy="140.0" r="0.8" fill="#8f8" opacity="0.5"/>
<circle cx="542.6" cy="146.8" r="0.8" fill="#8f8" opacity="0.5"/>
<circle cx="540.3" cy="145.6" r="0.8" fill="#8f8" opacity="0.5"/>
<circle cx="540.9" cy="148.4" r="0.8" fill="#8f8" opacity="0.5"/>
<circle cx="543.3" cy="146.0" r="0.8" fill="#8f8" opacity="0.5"/>
<circle cx="540.4" cy="144.0" r="0.8" fill="#8f8" opacity="0.5"/>
<circle cx="544.8" cy="144.4" r="1.8" fill="#d84" opacity="0.8"/>
<ellipse cx="579.1" cy="139.6" rx="7.8" ry="10.2" fill="rgb(30,130,90)" transform="rotate(-10 579.1 139.6)"/>
<ellipse cx="579.1" cy="139.6" rx="5.3" ry="6.9" fill="rgb(50,170,100)" transform="rotate(-10 579.1 139.6)"/>
<circle cx="581.0" cy="140.8" r="1.3" fill="#000" opacity="0.22"/>
<circle cx="581.8" cy="136.2" r="1.3" fill="#000" opacity="0.22"/>
<circle cx="581.7" cy="137.0" r="1.2" fill="#000" opacity="0.22"/>
<circle cx="578.4" cy="139.8" r="0.8" fill="#8f8" opacity="0.5"/>
<circle cx="580.6" cy="134.9" r="0.8" fill="#8f8" opacity="0.5"/>
<circle cx="582.6" cy="135.6" r="0.8" fill="#8f8" opacity="0.5"/>
<circle cx="577.0" cy="134.7" r="0.8" fill="#8f8" opacity="0.5"/>
<circle cx="578.6" cy="139.3" r="0.8" fill="#8f8" opacity="0.5"/>
<circle cx="579.1" cy="139.6" r="0.8" fill="#8f8" opacity="0.5"/>
<circle cx="581.9" cy="144.2" r="0.8" fill="#8f8" opacity="0.5"/>
<circle cx="579.6" cy="139.8" r="0.8" fill="#8f8" opacity="0.5"/>
<circle cx="583.3" cy="143.5" r="0.8" fill="#8f8" opacity="0.5"/>
<circle cx="579.2" cy="139.7" r="0.8" fill="#8f8" opacity="0.5"/>
<ellipse cx="598.5" cy="136.1" rx="7.8" ry="10.2" fill="rgb(210,35,120)" transform="rotate(-10 598.5 136.1)"/>
<ellipse cx="598.5" cy="136.1" rx="5.3" ry="6.9" fill="rgb(235,45,100)" transform="rotate(-10 598.5 136.1)"/>
<circle cx="599.1" cy="134.8" r="1.7" fill="#000" opacity="0.22"/>
<circle cx="596.9" cy="132.1" r="1.8" fill="#000" opacity="0.22"/>
<circle cx="595.6" cy="134.0" r="1.0" fill="#000" opacity="0.22"/>
<ellipse cx="617.2" cy="140.7" rx="7.8" ry="11.2" fill="rgb(240,45,75)" transform="rotate(-5 617.2 140.7)"/>
<ellipse cx="617.2" cy="140.7" rx="5.3" ry="7.6" fill="rgb(255,85,90)" transform="rotate(-5 617.2 140.7)"/>
<circle cx="617.5" cy="137.4" r="1.6" fill="#000" opacity="0.22"/>
<circle cx="619.6" cy="143.5" r="1.7" fill="#000" opacity="0.22"/>
<circle cx="618.9" cy="141.7" r="1.5" fill="#000" opacity="0.22"/>
<ellipse cx="496.2" cy="146.6" rx="8.5" ry="10.9" fill="rgb(110,40,150)" transform="rotate(0 496.2 146.6)"/>
<ellipse cx="496.2" cy="146.6" rx="5.8" ry="7.4" fill="rgb(120,40,140)" transform="rotate(0 496.2 146.6)"/>
<circle cx="497.0" cy="144.7" r="1.1" fill="#000" opacity="0.22"/>
<circle cx="496.2" cy="150.4" r="1.6" fill="#000" opacity="0.22"/>
<circle cx="494.5" cy="148.3" r="1.3" fill="#000" opacity="0.22"/>
<ellipse cx="567.4" cy="152.4" rx="6.1" ry="6.1" fill="rgb(185,30,120)" transform="rotate(0 567.4 152.4)"/>
<ellipse cx="567.4" cy="152.4" rx="4.1" ry="4.1" fill="rgb(190,30,110)" transform="rotate(0 567.4 152.4)"/>
<circle cx="566.5" cy="153.7" r="1.1" fill="#000" opacity="0.22"/>
<circle cx="564.5" cy="152.4" r="1.3" fill="#000" opacity="0.22"/>
<circle cx="567.4" cy="151.4" r="1.6" fill="#000" opacity="0.22"/>
<ellipse cx="634.0" cy="40.0" rx="11.2" ry="6.8" fill="rgb(200,40,40)" transform="rotate(0 634.0 40.0)"/>
<ellipse cx="634.0" cy="40.0" rx="7.6" ry="4.6" fill="rgb(225,55,45)" transform="rotate(0 634.0 40.0)"/>
<circle cx="634.2" cy="37.5" r="1.4" fill="#000" opacity="0.22"/>
<circle cx="630.1" cy="40.3" r="1.7" fill="#000" opacity="0.22"/>
<circle cx="634.9" cy="40.8" r="1.6" fill="#000" opacity="0.22"/>
</g>
<polyline points="525.6,68.5 521.6,77.9 532.2,75.5" fill="none" stroke="#fff" stroke-width="2.3" stroke-linejoin="miter"/>
<polyline points="557.3,71.1 553.3,80.5 563.9,78.1" fill="none" stroke="#fff" stroke-width="2.3" stroke-linejoin="miter"/>
</g>
<text font-family='"DejaVu Sans","Liberation Sans",sans-serif' font-size="14.5" font-weight="bold" text-anchor="middle" fill="#111" textLength="62.6" lengthAdjust="spacingAndGlyphs" x="95.6" y="29.2" >Hoechst</text>
<text font-family='"Liberation Sans","DejaVu Sans",sans-serif' font-size="14.6" font-weight="bold" text-anchor="start" fill="#111" textLength="32" lengthAdjust="spacingAndGlyphs" x="241.6" y="28.4" >ERα</text>
<text font-family='"Liberation Sans","DejaVu Sans",sans-serif' font-size="15.4" font-weight="bold" text-anchor="start" fill="#111" x="401.7" y="29.2" >GFP</text>
<text font-family='"DejaVu Sans","Liberation Sans",sans-serif' font-size="14.5" font-weight="bold" text-anchor="start" fill="#111" textLength="48.2" lengthAdjust="spacingAndGlyphs" x="555.0" y="25.4" >merge</text>
<text font-family='"Liberation Sans","DejaVu Sans",sans-serif' font-size="22.2" font-weight="normal" text-anchor="start" fill="#111" x="-0.7" y="15.5" >A</text>
<line x1="113.5" y1="405.4" x2="373.3" y2="405.4" stroke="#8c8c8c" stroke-width="1"/>
<text font-family='"DejaVu Sans","Liberation Sans",sans-serif' font-size="16.5" font-weight="normal" text-anchor="end" fill="#1a1a1a" x="106" y="411.2" >0</text>
<line x1="113.5" y1="382.5" x2="373.3" y2="382.5" stroke="#8c8c8c" stroke-width="1"/>
<text font-family='"DejaVu Sans","Liberation Sans",sans-serif' font-size="16.5" font-weight="normal" text-anchor="end" fill="#1a1a1a" x="106" y="388.27" >1</text>
<line x1="113.5" y1="359.5" x2="373.3" y2="359.5" stroke="#8c8c8c" stroke-width="1"/>
<text font-family='"DejaVu Sans","Liberation Sans",sans-serif' font-size="16.5" font-weight="normal" text-anchor="end" fill="#1a1a1a" x="106" y="365.34" >2</text>
<line x1="113.5" y1="336.6" x2="373.3" y2="336.6" stroke="#8c8c8c" stroke-width="1"/>
<text font-family='"DejaVu Sans","Liberation Sans",sans-serif' font-size="16.5" font-weight="normal" text-anchor="end" fill="#1a1a1a" x="106" y="342.41" >3</text>
<line x1="113.5" y1="313.7" x2="373.3" y2="313.7" stroke="#8c8c8c" stroke-width="1"/>
<text font-family='"DejaVu Sans","Liberation Sans",sans-serif' font-size="16.5" font-weight="normal" text-anchor="end" fill="#1a1a1a" x="106" y="319.47999999999996" >4</text>
<line x1="113.5" y1="290.8" x2="373.3" y2="290.8" stroke="#8c8c8c" stroke-width="1"/>
<text font-family='"DejaVu Sans","Liberation Sans",sans-serif' font-size="16.5" font-weight="normal" text-anchor="end" fill="#1a1a1a" x="106" y="296.55" >5</text>
<line x1="113.5" y1="267.8" x2="373.3" y2="267.8" stroke="#8c8c8c" stroke-width="1"/>
<text font-family='"DejaVu Sans","Liberation Sans",sans-serif' font-size="16.5" font-weight="normal" text-anchor="end" fill="#1a1a1a" x="106" y="273.62" >6</text>
<line x1="113.5" y1="244.9" x2="373.3" y2="244.9" stroke="#8c8c8c" stroke-width="1"/>
<text font-family='"DejaVu Sans","Liberation Sans",sans-serif' font-size="16.5" font-weight="normal" text-anchor="end" fill="#1a1a1a" x="106" y="250.69" >7</text>
<line x1="116.5" y1="244.9" x2="116.5" y2="408.4" stroke="#8c8c8c" stroke-width="1"/>
<line x1="180.7" y1="405.4" x2="180.7" y2="408.4" stroke="#8c8c8c" stroke-width="1"/>
<line x1="244.9" y1="405.4" x2="244.9" y2="408.4" stroke="#8c8c8c" stroke-width="1"/>
<line x1="309.1" y1="405.4" x2="309.1" y2="408.4" stroke="#8c8c8c" stroke-width="1"/>
<line x1="373.3" y1="405.4" x2="373.3" y2="408.4" stroke="#8c8c8c" stroke-width="1"/>
<rect x="136.4" y="365.7" width="24.8" height="40.2" fill="#0a0a0a"/>
<path d="M148.8 365.7 V340.3 M145.8 340.3 H151.8" stroke="#222" stroke-width="1" fill="none"/>
<rect x="200.0" y="399.3" width="25.4" height="6.6" fill="#0a0a0a"/>
<path d="M212.7 399.3 V392.9 M209.7 392.9 H215.7" stroke="#222" stroke-width="1" fill="none"/>
<rect x="264.4" y="277.0" width="25.1" height="128.9" fill="#0a0a0a"/>
<path d="M276.9 277.0 V256.5 M273.9 256.5 H279.9" stroke="#222" stroke-width="1" fill="none"/>
<rect x="328.6" y="346.8" width="25.1" height="59.1" fill="#0a0a0a"/>
<path d="M341.1 346.8 V333.6 M338.1 333.6 H344.1" stroke="#222" stroke-width="1" fill="none"/>
<text font-family='"Liberation Sans","DejaVu Sans",sans-serif' font-size="22.2" font-weight="normal" text-anchor="start" fill="#111" x="50.0" y="244.1" >B</text>
<text font-family='"DejaVu Sans Condensed","DejaVu Sans","Liberation Sans",sans-serif' font-size="11.2" font-weight="bold" text-anchor="middle" fill="#111" stroke="#111" stroke-width="0.28" textLength="130" lengthAdjust="spacingAndGlyphs" transform="translate(71.5,324.6) rotate(-90)" >ER transcriptional activity</text>
<text font-family='"DejaVu Sans Condensed","DejaVu Sans","Liberation Sans",sans-serif' font-size="11.2" font-weight="bold" text-anchor="middle" fill="#111" stroke="#111" stroke-width="0.28" textLength="137.6" lengthAdjust="spacingAndGlyphs" transform="translate(83.0,325.0) rotate(-90)" >(Relative luciferase activity)</text>
<text font-family='"DejaVu Sans Condensed","DejaVu Sans","Liberation Sans",sans-serif' font-size="11.3" font-weight="bold" text-anchor="middle" fill="#111" stroke="#111" stroke-width="0.28" textLength="52.5" lengthAdjust="spacingAndGlyphs" x="149.0" y="426.2" >MCF7 GFP</text>
<text font-family='"DejaVu Sans Condensed","DejaVu Sans","Liberation Sans",sans-serif' font-size="11.3" font-weight="bold" text-anchor="middle" fill="#111" stroke="#111" stroke-width="0.28" textLength="57" lengthAdjust="spacingAndGlyphs" x="213.9" y="426.2" >MCF7 GFP-</text>
<text font-family='"DejaVu Sans Condensed","DejaVu Sans","Liberation Sans",sans-serif' font-size="11.3" font-weight="bold" text-anchor="middle" fill="#111" stroke="#111" stroke-width="0.28" textLength="37.2" lengthAdjust="spacingAndGlyphs" x="212.8" y="438.5" >ZNF703</text>
<text font-family='"DejaVu Sans Condensed","DejaVu Sans","Liberation Sans",sans-serif' font-size="11.3" font-weight="bold" text-anchor="middle" fill="#111" stroke="#111" stroke-width="0.28" textLength="52.5" lengthAdjust="spacingAndGlyphs" x="277.3" y="426.2" >MCF7 GFP</text>
<text font-family='"DejaVu Sans Condensed","DejaVu Sans","Liberation Sans",sans-serif' font-size="11.3" font-weight="bold" text-anchor="middle" fill="#111" stroke="#111" stroke-width="0.28" textLength="57.4" lengthAdjust="spacingAndGlyphs" x="342.0" y="426.2" >MCF7 GFP-</text>
<text font-family='"DejaVu Sans Condensed","DejaVu Sans","Liberation Sans",sans-serif' font-size="11.3" font-weight="bold" text-anchor="middle" fill="#111" stroke="#111" stroke-width="0.28" textLength="36.8" lengthAdjust="spacingAndGlyphs" x="340.9" y="438.5" >ZNF703</text>
<rect x="119.7" y="451.3" width="122.7" height="2.6" fill="#111"/>
<rect x="245.4" y="451.3" width="121.8" height="2.6" fill="#111"/>
<text font-family='"DejaVu Sans Condensed","DejaVu Sans","Liberation Sans",sans-serif' font-size="11.5" font-weight="bold" text-anchor="middle" fill="#111" stroke="#111" stroke-width="0.28" textLength="19.7" lengthAdjust="spacingAndGlyphs" x="182.1" y="473.1" >-E2</text>
<text font-family='"DejaVu Sans Condensed","DejaVu Sans","Liberation Sans",sans-serif' font-size="11.5" font-weight="bold" text-anchor="middle" fill="#111" stroke="#111" stroke-width="0.28" textLength="19.7" lengthAdjust="spacingAndGlyphs" x="313.5" y="473.1" >+E2</text>
<defs><filter id="bb" x="-10%" y="-60%" width="120%" height="220%"><feGaussianBlur stdDeviation="1.2 0.7"/></filter></defs>
<rect x="491.1" y="300.3" width="68.2" height="19.6" fill="#ececec" stroke="#333" stroke-width="1.15"/>
<g filter="url(#bb)">
<rect x="500.5" y="311.6" width="22.3" height="3.2" rx="1.6" fill="#000" opacity="1.0"/>
<rect x="512.0" y="311.0" width="10.8" height="3.8" rx="1.9" fill="#000" opacity="1.0"/>
</g>
<rect x="491.1" y="325.1" width="68.2" height="18.9" fill="#f4f4f4" stroke="#333" stroke-width="1.15"/>
<g filter="url(#bb)">
<rect x="496.0" y="333.5" width="26.0" height="2.6" rx="1.3" fill="#000" opacity="0.33"/>
<rect x="528.0" y="332.4" width="27.0" height="4.4" rx="2.2" fill="#000" opacity="1.0"/>
<rect x="529.0" y="339.7" width="24.0" height="2.2" rx="1.1" fill="#000" opacity="0.2"/>
</g>
<rect x="491.1" y="349.3" width="68.2" height="18.9" fill="#f4f4f4" stroke="#333" stroke-width="1.15"/>
<g filter="url(#bb)">
<rect x="498.5" y="360.3" width="27.0" height="2.2" rx="1.1" fill="#000" opacity="0.45"/>
<rect x="531.5" y="360.9" width="23.5" height="2.6" rx="1.3" fill="#000" opacity="0.9"/>
</g>
<rect x="491.1" y="373.3" width="68.2" height="19.0" fill="#f4f4f4" stroke="#333" stroke-width="1.15"/>
<g filter="url(#bb)">
<rect x="499.0" y="383.7" width="22.0" height="2.4" rx="1.2" fill="#000" opacity="0.2"/>
<rect x="531.0" y="383.4" width="21.5" height="3.0" rx="1.5" fill="#000" opacity="0.9"/>
</g>
<rect x="491.1" y="397.5" width="68.2" height="19.1" fill="#f4f4f4" stroke="#333" stroke-width="1.15"/>
<g filter="url(#bb)">
<rect x="497.5" y="405.3" width="30.0" height="3.2" rx="1.6" fill="#000" opacity="0.95"/>
<rect x="530.5" y="405.7" width="25.0" height="3.2" rx="1.6" fill="#000" opacity="0.95"/>
</g>
<rect x="491.1" y="423.0" width="68.2" height="2.6" fill="#111"/>
<text font-family='"DejaVu Sans","Liberation Sans",sans-serif' font-size="10.5" font-weight="normal" text-anchor="middle" fill="#111" textLength="27" lengthAdjust="spacingAndGlyphs" x="525.2" y="440.3" >MCF7</text>
<text font-family='"Liberation Sans","DejaVu Sans",sans-serif' font-size="22.2" font-weight="normal" text-anchor="start" fill="#111" x="442.9" y="244.5" >C</text>
<text font-family='"DejaVu Sans","Liberation Sans",sans-serif' font-size="10.5" font-weight="normal" text-anchor="end" fill="#111" textLength="12.2" lengthAdjust="spacingAndGlyphs" x="478.3" y="319.29999999999995" >83</text>
<line x1="480.7" y1="315.4" x2="489.6" y2="315.4" stroke="#222" stroke-width="1.1"/>
<text font-family='"DejaVu Sans","Liberation Sans",sans-serif' font-size="10.5" font-weight="normal" text-anchor="end" fill="#111" textLength="20.8" lengthAdjust="spacingAndGlyphs" x="478.3" y="343.4" >47.5</text>
<line x1="480.7" y1="339.5" x2="489.6" y2="339.5" stroke="#222" stroke-width="1.1"/>
<text font-family='"DejaVu Sans","Liberation Sans",sans-serif' font-size="10.5" font-weight="normal" text-anchor="end" fill="#111" textLength="12.2" lengthAdjust="spacingAndGlyphs" x="478.3" y="365.9" >62</text>
<line x1="480.7" y1="362.0" x2="489.6" y2="362.0" stroke="#222" stroke-width="1.1"/>
<text font-family='"DejaVu Sans","Liberation Sans",sans-serif' font-size="10.5" font-weight="normal" text-anchor="end" fill="#111" textLength="20.8" lengthAdjust="spacingAndGlyphs" x="478.3" y="390.9" >32.5</text>
<line x1="480.7" y1="387.0" x2="489.6" y2="387.0" stroke="#222" stroke-width="1.1"/>
<text font-family='"DejaVu Sans","Liberation Sans",sans-serif' font-size="10.5" font-weight="normal" text-anchor="end" fill="#111" textLength="20.8" lengthAdjust="spacingAndGlyphs" x="478.3" y="411.09999999999997" >47.5</text>
<line x1="480.7" y1="407.2" x2="489.6" y2="407.2" stroke="#222" stroke-width="1.1"/>
<text font-family='"DejaVu Sans","Liberation Sans",sans-serif' font-size="11.5" font-weight="normal" text-anchor="start" fill="#111" textLength="59.5" lengthAdjust="spacingAndGlyphs" x="570.3" y="314.70000000000005" >IB: ZNF703</text>
<text font-family='"DejaVu Sans","Liberation Sans",sans-serif' font-size="11.5" font-weight="normal" text-anchor="start" fill="#111" textLength="55" lengthAdjust="spacingAndGlyphs" x="570.3" y="338.70000000000005" >IB: FOXA1</text>
<text font-family='"DejaVu Sans","Liberation Sans",sans-serif' font-size="11.5" font-weight="normal" text-anchor="start" fill="#111" textLength="40" lengthAdjust="spacingAndGlyphs" x="570.3" y="362.8" >IB: ERα</text>
<text font-family='"DejaVu Sans","Liberation Sans",sans-serif' font-size="11.5" font-weight="normal" text-anchor="start" fill="#111" textLength="55" lengthAdjust="spacingAndGlyphs" x="570.3" y="387.20000000000005" >IB: GATA3</text>
<text font-family='"DejaVu Sans","Liberation Sans",sans-serif' font-size="11.5" font-weight="normal" text-anchor="start" fill="#111" textLength="62.7" lengthAdjust="spacingAndGlyphs" x="570.3" y="410.40000000000003" >IB: α-tubulin</text>
<text font-family='"Liberation Sans","DejaVu Sans",sans-serif' font-size="10.7" font-weight="normal" text-anchor="start" fill="#111" textLength="62.4" lengthAdjust="spacingAndGlyphs" transform="translate(510.3,294.2) rotate(-64)" >GFP-ZNF703</text>
<text font-family='"Liberation Sans","DejaVu Sans",sans-serif' font-size="10.7" font-weight="normal" text-anchor="start" fill="#111" textLength="20.8" lengthAdjust="spacingAndGlyphs" transform="translate(541.4,293.6) rotate(-64)" >GFP</text>
<line x1="116.4" y1="741.5" x2="375.2" y2="741.5" stroke="#8c8c8c" stroke-width="1"/>
<text font-family='"DejaVu Sans","Liberation Sans",sans-serif' font-size="16" font-weight="normal" text-anchor="end" fill="#1a1a1a" x="110.3" y="747.2" >0</text>
<line x1="116.4" y1="709.5" x2="375.2" y2="709.5" stroke="#8c8c8c" stroke-width="1"/>
<text font-family='"DejaVu Sans","Liberation Sans",sans-serif' font-size="16" font-weight="normal" text-anchor="end" fill="#1a1a1a" x="110.3" y="715.2" >1</text>
<line x1="116.4" y1="677.5" x2="375.2" y2="677.5" stroke="#8c8c8c" stroke-width="1"/>
<text font-family='"DejaVu Sans","Liberation Sans",sans-serif' font-size="16" font-weight="normal" text-anchor="end" fill="#1a1a1a" x="110.3" y="683.2" >2</text>
<line x1="116.4" y1="645.5" x2="375.2" y2="645.5" stroke="#8c8c8c" stroke-width="1"/>
<text font-family='"DejaVu Sans","Liberation Sans",sans-serif' font-size="16" font-weight="normal" text-anchor="end" fill="#1a1a1a" x="110.3" y="651.2" >3</text>
<line x1="116.4" y1="613.5" x2="375.2" y2="613.5" stroke="#8c8c8c" stroke-width="1"/>
<text font-family='"DejaVu Sans","Liberation Sans",sans-serif' font-size="16" font-weight="normal" text-anchor="end" fill="#1a1a1a" x="110.3" y="619.2" >4</text>
<line x1="116.4" y1="581.5" x2="375.2" y2="581.5" stroke="#8c8c8c" stroke-width="1"/>
<text font-family='"DejaVu Sans","Liberation Sans",sans-serif' font-size="16" font-weight="normal" text-anchor="end" fill="#1a1a1a" x="110.3" y="587.2" >5</text>
<line x1="119.4" y1="581.5" x2="119.4" y2="744.5" stroke="#8c8c8c" stroke-width="1"/>
<line x1="375.2" y1="581.5" x2="375.2" y2="744.5" stroke="#8c8c8c" stroke-width="1"/>
<line x1="247.3" y1="741.5" x2="247.3" y2="744.5" stroke="#8c8c8c" stroke-width="1"/>
<rect x="147.2" y="708.8" width="36.4" height="33.2" fill="#0a0a0a"/>
<rect x="183.6" y="710.2" width="36.5" height="31.8" fill="#b4b4b4"/>
<rect x="275.0" y="633.4" width="37.4" height="108.6" fill="#0a0a0a"/>
<rect x="312.4" y="676.4" width="36.5" height="65.6" fill="#b4b4b4"/>
<path d="M293.7 633.4 V603.4 M290.7 603.4 H296.7" stroke="#222" stroke-width="1" fill="none"/>
<path d="M330.6 657.7 V694.2 M327.6 657.7 H333.6 M327.6 694.2 H333.6" stroke="#222" stroke-width="1" fill="none"/>
<path d="M198.7 709.4 H205" stroke="#222" stroke-width="1" fill="none"/>
<rect x="269.2" y="551.0" width="17.8" height="8.9" fill="#0a0a0a"/>
<rect x="269.6" y="567.2" width="17.2" height="8.4" fill="#b4b4b4" stroke="#555" stroke-width="0.8"/>
<text font-family='"DejaVu Sans Condensed","DejaVu Sans","Liberation Sans",sans-serif' font-size="12.2" font-weight="normal" text-anchor="start" fill="#111" textLength="82.6" lengthAdjust="spacingAndGlyphs" x="293.4" y="559.4" >p 3XE2F1-Luc</text>
<text font-family='"DejaVu Sans Condensed","DejaVu Sans","Liberation Sans",sans-serif' font-size="12.2" font-weight="normal" text-anchor="start" fill="#111" textLength="72.4" lengthAdjust="spacingAndGlyphs" x="293.4" y="574.0" >p CCNE-Luc</text>
<text font-family='"Liberation Sans","DejaVu Sans",sans-serif' font-size="22.2" font-weight="normal" text-anchor="start" fill="#111" x="56.0" y="556.9" >D</text>
<text font-family='"DejaVu Sans Condensed","DejaVu Sans","Liberation Sans",sans-serif' font-size="11.2" font-weight="bold" text-anchor="middle" fill="#111" stroke="#111" stroke-width="0.28" textLength="140" lengthAdjust="spacingAndGlyphs" transform="translate(75.5,669.4) rotate(-90)" >E2F1 transcriptional activity</text>
<text font-family='"DejaVu Sans Condensed","DejaVu Sans","Liberation Sans",sans-serif' font-size="11.2" font-weight="bold" text-anchor="middle" fill="#111" stroke="#111" stroke-width="0.28" textLength="137" lengthAdjust="spacingAndGlyphs" transform="translate(88.4,668.6) rotate(-90)" >(Relative luciferase activity)</text>
<text font-family='"DejaVu Sans Condensed","DejaVu Sans","Liberation Sans",sans-serif' font-size="11.3" font-weight="bold" text-anchor="middle" fill="#111" stroke="#111" stroke-width="0.28" textLength="52" lengthAdjust="spacingAndGlyphs" x="185.0" y="762.0" >MCF7 GFP</text>
<text font-family='"DejaVu Sans Condensed","DejaVu Sans","Liberation Sans",sans-serif' font-size="11.3" font-weight="bold" text-anchor="middle" fill="#111" stroke="#111" stroke-width="0.28" textLength="93.4" lengthAdjust="spacingAndGlyphs" x="312.4" y="762.0" >MCF7 GFP-ZNF703</text>
<rect x="493.8" y="631.2" width="68.9" height="20.2" fill="#f4f4f4" stroke="#333" stroke-width="1.15"/>
<g filter="url(#bb)">
<rect x="497.0" y="639.6" width="24.0" height="1.8" rx="0.9" fill="#000" opacity="0.8"/>
<rect x="497.0" y="643.2" width="24.5" height="2.2" rx="1.1" fill="#000" opacity="0.95"/>
<rect x="528.0" y="642.3" width="27.0" height="2.8" rx="1.4" fill="#000" opacity="0.98"/>
<rect x="530.0" y="640.3" width="23.0" height="1.8" rx="0.9" fill="#000" opacity="0.3"/>
</g>
<rect x="493.8" y="657.8" width="68.9" height="20.0" fill="#f4f4f4" stroke="#333" stroke-width="1.15"/>
<g filter="url(#bb)">
<rect x="497.5" y="668.9" width="24.5" height="2.8" rx="1.4" fill="#000" opacity="0.42"/>
<rect x="531.0" y="668.7" width="24.5" height="3.8" rx="1.9" fill="#000" opacity="1.0"/>
</g>
<rect x="493.8" y="683.3" width="68.9" height="20.1" fill="#f4f4f4" stroke="#333" stroke-width="1.15"/>
<g filter="url(#bb)">
<rect x="497.0" y="691.0" width="29.0" height="2.4" rx="1.2" fill="#000" opacity="0.78"/>
<rect x="531.5" y="690.8" width="20.5" height="2.4" rx="1.2" fill="#000" opacity="0.72"/>
<rect x="548.0" y="689.7" width="12.0" height="2.2" rx="1.1" fill="#000" opacity="0.72"/>
</g>
<rect x="493.8" y="711.5" width="68.9" height="2.6" fill="#111"/>
<text font-family='"DejaVu Sans","Liberation Sans",sans-serif' font-size="10.5" font-weight="normal" text-anchor="middle" fill="#111" textLength="28.5" lengthAdjust="spacingAndGlyphs" x="529.0" y="729.6" >MCF7</text>
<text font-family='"Liberation Sans","DejaVu Sans",sans-serif' font-size="22.2" font-weight="normal" text-anchor="start" fill="#111" x="456.2" y="557.2" >E</text>
<text font-family='"DejaVu Sans","Liberation Sans",sans-serif' font-size="10.5" font-weight="normal" text-anchor="end" fill="#111" textLength="12.2" lengthAdjust="spacingAndGlyphs" x="480.4" y="652.1" >83</text>
<line x1="483.4" y1="648.2" x2="491.8" y2="648.2" stroke="#222" stroke-width="1.1"/>
<text font-family='"DejaVu Sans","Liberation Sans",sans-serif' font-size="10.5" font-weight="normal" text-anchor="end" fill="#111" textLength="12.2" lengthAdjust="spacingAndGlyphs" x="480.4" y="669.1" >25</text>
<line x1="483.4" y1="665.2" x2="491.8" y2="665.2" stroke="#222" stroke-width="1.1"/>
<text font-family='"DejaVu Sans","Liberation Sans",sans-serif' font-size="10.5" font-weight="normal" text-anchor="end" fill="#111" textLength="20.8" lengthAdjust="spacingAndGlyphs" x="480.4" y="699.6" >47.5</text>
<line x1="483.4" y1="695.7" x2="491.8" y2="695.7" stroke="#222" stroke-width="1.1"/>
<text font-family='"DejaVu Sans","Liberation Sans",sans-serif' font-size="11.5" font-weight="normal" text-anchor="start" fill="#111" textLength="41" lengthAdjust="spacingAndGlyphs" x="572.9" y="646.1" >IB: RB1</text>
<text font-family='"DejaVu Sans","Liberation Sans",sans-serif' font-size="11.5" font-weight="normal" text-anchor="start" fill="#111" textLength="40" lengthAdjust="spacingAndGlyphs" x="572.9" y="672.6" >IB: p27</text>
<text font-family='"DejaVu Sans","Liberation Sans",sans-serif' font-size="7" font-weight="normal" text-anchor="start" fill="#111" textLength="15.5" lengthAdjust="spacingAndGlyphs" x="613.3" y="668.6" >Kip1</text>
<text font-family='"DejaVu Sans","Liberation Sans",sans-serif' font-size="11.5" font-weight="normal" text-anchor="start" fill="#111" textLength="62.7" lengthAdjust="spacingAndGlyphs" x="572.9" y="697.6" >IB: α-tubulin</text>
<text font-family='"Liberation Sans","DejaVu Sans",sans-serif' font-size="10.7" font-weight="normal" text-anchor="start" fill="#111" textLength="62.4" lengthAdjust="spacingAndGlyphs" transform="translate(512.4,626.2) rotate(-64)" >GFP-ZNF703</text>
<text font-family='"Liberation Sans","DejaVu Sans",sans-serif' font-size="10.7" font-weight="normal" text-anchor="start" fill="#111" textLength="20.8" lengthAdjust="spacingAndGlyphs" transform="translate(543.0,625.8) rotate(-64)" >GFP</text>
<path d="M44.30 980.30 L44.30 903.70 L44.55 903.72 L44.80 903.75 L45.05 903.77 L45.30 903.80 L45.55 903.82 L45.80 903.84 L46.05 903.87 L46.30 903.89 L46.55 909.92 L46.80 910.03 L47.05 910.13 L47.30 910.24 L47.55 910.35 L47.80 910.46 L48.05 921.81 L48.30 921.84 L48.55 921.87 L48.80 921.90 L49.05 921.93 L49.30 921.96 L49.55 921.99 L49.80 925.14 L50.05 925.33 L50.30 925.47 L50.55 925.60 L50.80 925.74 L51.05 925.87 L51.30 926.01 L51.55 926.15 L51.80 926.28 L52.05 926.42 L52.29 933.05 L52.54 933.44 L52.79 933.48 L53.04 933.51 L53.29 933.55 L53.54 933.59 L53.79 933.63 L54.04 933.67 L54.29 933.71 L54.54 933.75 L54.79 933.78 L55.04 933.82 L55.29 933.86 L55.54 933.90 L55.79 933.94 L56.04 933.98 L56.29 934.01 L56.54 934.05 L56.79 934.09 L57.04 934.13 L57.29 934.17 L57.54 934.21 L57.79 934.24 L58.04 934.28 L58.29 934.32 L58.54 934.36 L58.79 934.40 L59.04 937.56 L59.29 937.68 L59.54 937.79 L59.79 937.90 L60.04 939.68 L60.29 942.58 L60.54 943.09 L60.79 943.59 L61.04 944.10 L61.29 944.60 L61.54 945.10 L61.79 945.61 L62.04 946.11 L62.29 946.62 L62.54 947.12 L62.79 947.63 L63.04 948.13 L63.29 948.63 L63.54 949.14 L63.79 949.64 L64.04 950.15 L64.29 950.65 L64.54 951.16 L64.79 951.66 L65.04 952.16 L65.29 952.67 L65.54 953.17 L65.79 953.50 L66.04 953.78 L66.29 954.05 L66.54 954.32 L66.79 958.19 L67.04 958.96 L67.29 959.14 L67.54 959.31 L67.79 959.48 L68.04 959.66 L68.28 959.83 L68.53 960.00 L68.78 960.17 L69.03 960.35 L69.28 960.52 L69.53 960.69 L69.78 960.87 L70.03 961.04 L70.28 961.21 L70.53 961.38 L70.78 961.56 L71.03 961.73 L71.28 961.90 L71.53 962.08 L71.78 962.25 L72.03 962.42 L72.28 962.61 L72.53 962.80 L72.78 962.99 L73.03 963.18 L73.28 963.37 L73.53 963.55 L73.78 963.74 L74.03 963.93 L74.28 964.12 L74.53 964.31 L74.78 964.50 L75.03 964.68 L75.28 964.87 L75.53 965.06 L75.78 965.25 L76.03 965.44 L76.28 965.63 L76.53 965.81 L76.78 966.00 L77.03 966.19 L77.28 966.38 L77.53 966.57 L77.78 966.76 L78.03 966.94 L78.28 967.13 L78.53 967.32 L78.78 967.54 L79.03 967.75 L79.28 967.97 L79.53 968.19 L79.78 968.40 L80.03 968.62 L80.28 968.83 L80.53 969.05 L80.78 969.26 L81.03 969.48 L81.28 969.69 L81.53 969.91 L81.78 970.12 L82.03 970.34 L82.28 970.55 L82.53 970.77 L82.78 970.98 L83.03 971.20 L83.28 971.41 L83.53 971.63 L83.78 971.84 L84.02 972.06 L84.27 972.28 L84.52 972.49 L84.77 972.71 L85.02 972.92 L85.27 973.07 L85.52 973.23 L85.77 973.38 L86.02 973.54 L86.27 973.70 L86.52 973.85 L86.77 974.01 L87.02 974.16 L87.27 974.32 L87.52 974.48 L87.77 974.63 L88.02 974.79 L88.27 974.95 L88.52 975.10 L88.77 975.26 L89.02 975.41 L89.27 975.57 L89.52 975.73 L89.77 975.88 L90.02 976.04 L90.27 976.19 L90.52 976.35 L90.77 976.51 L91.02 976.66 L91.27 976.82 L91.52 976.96 L91.77 977.08 L92.02 977.20 L92.27 977.32 L92.52 977.44 L92.77 977.56 L93.02 977.68 L93.27 977.80 L93.52 977.92 L93.77 978.04 L94.02 978.16 L94.27 978.28 L94.52 978.40 L94.77 978.52 L95.02 978.64 L95.27 978.76 L95.52 978.89 L95.77 979.01 L96.02 979.13 L96.27 979.25 L96.52 979.37 L96.77 979.49 L97.02 979.60 L97.27 979.65 L97.52 979.70 L97.77 979.75 L98.02 979.80 L98.27 979.85 L98.52 979.90 L98.77 979.95 L99.02 980.00 L99.27 980.05 L99.52 980.10 L99.77 980.15 L100.01 980.20 L100.26 980.25 L100.51 980.30 L100.76 980.35 L101.01 980.40 L101.26 980.45 L101.51 980.50 L101.76 980.55 L102.01 980.60 L102.26 980.69 L102.51 980.77 L102.76 980.85 L103.01 980.93 L103.26 981.01 L103.51 981.09 L103.76 981.17 L104.01 981.25 L104.26 981.34 L104.51 981.42 L104.76 981.50 L105.01 981.58 L105.26 981.66 L105.51 981.74 L105.76 981.82 L106.01 981.90 L106.26 981.98 L106.51 982.07 L106.76 982.15 L107.01 982.23 L107.26 982.31 L107.51 982.39 L107.76 982.47 L108.01 982.55 L108.26 982.63 L108.51 982.72 L108.76 982.80 L109.01 982.88 L109.26 982.96 L109.51 983.04 L109.76 983.12 L110.01 983.20 L110.26 983.26 L110.51 983.33 L110.76 983.39 L111.01 983.45 L111.26 983.51 L111.51 983.57 L111.76 983.64 L112.01 983.70 L112.26 983.76 L112.51 983.82 L112.76 983.89 L113.01 983.95 L113.26 984.01 L113.51 984.07 L113.76 984.13 L114.01 984.20 L114.26 984.26 L114.51 984.32 L114.76 984.38 L115.01 984.44 L115.26 984.51 L115.51 984.57 L115.75 984.63 L116.00 984.69 L116.25 984.76 L116.50 984.82 L116.75 984.88 L117.00 984.94 L117.25 985.00 L117.50 985.07 L117.75 985.13 L118.00 985.19 L118.25 985.25 L118.50 985.31 L118.75 985.38 L119.00 985.44 L119.25 985.50 L119.50 985.56 L119.75 985.63 L120.00 985.69 L120.25 985.75 L120.50 985.81 L120.75 985.87 L121.00 985.94 L121.25 986.00 L121.50 986.06 L121.75 986.12 L122.00 986.18 L122.25 986.25 L122.50 986.31 L122.75 986.37 L123.00 986.43 L123.25 986.50 L123.50 986.56 L123.75 986.62 L124.00 986.68 L124.25 986.74 L124.50 986.81 L124.75 986.87 L125.00 986.93 L125.25 986.99 L125.50 987.05 L125.75 987.12 L126.00 987.18 L126.25 987.24 L126.50 987.30 L126.75 987.37 L127.00 987.43 L127.25 987.49 L127.50 987.55 L127.75 987.61 L128.00 987.68 L128.25 987.74 L128.50 987.80 L128.75 987.86 L129.00 987.92 L129.25 987.99 L129.50 988.07 L129.75 988.15 L130.00 988.23 L130.25 988.31 L130.50 988.40 L130.75 988.48 L131.00 988.56 L131.25 988.65 L131.50 988.73 L131.74 988.81 L131.99 988.89 L132.24 988.98 L132.49 989.06 L132.74 989.14 L132.99 989.23 L133.24 989.31 L133.49 989.39 L133.74 989.48 L133.99 989.56 L134.24 989.64 L134.49 989.72 L134.74 989.81 L134.99 989.89 L135.24 989.97 L135.49 990.06 L135.74 990.14 L135.99 990.22 L136.24 990.30 L136.49 990.39 L136.74 990.47 L136.99 990.55 L137.24 990.64 L137.49 990.72 L137.74 990.80 L137.99 990.89 L138.24 990.97 L138.49 991.05 L138.74 991.13 L138.99 991.22 L139.24 991.30 L139.49 991.38 L139.74 991.47 L139.99 991.55 L140.24 991.63 L140.49 991.71 L140.74 991.80 L140.99 991.88 L141.24 991.96 L141.49 992.05 L141.74 992.13 L141.99 992.21 L142.24 992.30 L142.49 992.38 L142.74 992.46 L142.99 992.54 L143.24 992.63 L143.49 992.71 L143.74 992.79 L143.99 992.88 L144.24 992.96 L144.49 993.04 L144.74 993.12 L144.99 993.21 L145.24 993.29 L145.49 993.37 L145.74 993.46 L145.99 993.54 L146.24 993.62 L146.49 993.71 L146.74 993.79 L146.99 993.87 L147.24 993.95 L147.48 994.04 L147.73 994.12 L147.98 994.20 L148.23 994.29 L148.48 994.37 L148.73 994.45 L148.98 994.53 L149.23 994.62 L149.48 994.70 L149.73 994.78 L149.98 994.87 L150.23 994.95 L150.48 995.03 L150.73 995.12 L150.98 995.20 L151.23 995.28 L151.48 995.36 L151.73 995.45 L151.98 995.53 L152.23 995.61 L152.48 995.70 L152.73 995.78 L152.98 995.86 L153.23 995.94 L153.48 996.03 L153.73 996.11 L153.98 996.19 L154.23 996.26 L154.48 996.33 L154.73 996.40 L154.98 996.46 L155.23 996.53 L155.48 996.60 L155.73 996.67 L155.98 996.73 L156.23 996.80 L156.48 996.87 L156.73 996.93 L156.98 997.00 L157.23 997.07 L157.48 997.14 L157.73 997.20 L157.98 997.27 L158.23 997.34 L158.48 997.40 L158.73 997.47 L158.98 997.54 L159.23 997.61 L159.48 997.67 L159.73 997.74 L159.98 997.81 L160.23 997.88 L160.48 997.94 L160.73 998.01 L160.98 998.08 L161.23 998.14 L161.48 998.21 L161.73 998.28 L161.98 998.35 L162.23 998.41 L162.48 998.48 L162.73 998.55 L162.98 998.62 L163.23 998.68 L163.47 998.75 L163.72 998.82 L163.97 998.88 L164.22 998.95 L164.47 999.02 L164.72 999.09 L164.97 999.15 L165.22 999.22 L165.47 999.29 L165.72 999.35 L165.97 999.42 L166.22 999.49 L166.47 999.56 L166.72 999.62 L166.97 999.69 L167.22 999.76 L167.47 999.83 L167.72 999.89 L167.97 999.96 L168.22 1000.03 L168.47 1000.09 L168.72 1000.16 L168.97 1000.23 L169.22 1000.30 L169.47 1000.36 L169.72 1000.43 L169.97 1000.50 L170.22 1000.56 L170.47 1000.63 L170.72 1000.70 L170.97 1000.77 L171.22 1000.83 L171.47 1000.90 L171.72 1000.97 L171.97 1001.04 L172.22 1001.10 L172.47 1001.17 L172.72 1001.24 L172.97 1001.30 L173.22 1001.37 L173.47 1001.44 L173.72 1001.51 L173.97 1001.57 L174.22 1001.64 L174.47 1001.71 L174.72 1001.77 L174.97 1001.84 L175.22 1001.91 L175.47 1001.98 L175.72 1002.04 L175.97 1002.11 L176.22 1002.18 L176.47 1002.25 L176.72 1002.31 L176.97 1002.38 L177.22 1002.45 L177.47 1002.51 L177.72 1002.58 L177.97 1002.65 L178.22 1002.72 L178.47 1002.78 L178.72 1002.85 L178.97 1002.92 L179.21 1002.97 L179.46 1003.03 L179.71 1003.09 L179.96 1003.15 L180.21 1003.21 L180.46 1003.26 L180.71 1003.32 L180.96 1003.38 L181.21 1003.44 L181.46 1003.50 L181.71 1003.55 L181.96 1003.61 L182.21 1003.67 L182.46 1003.73 L182.71 1003.79 L182.96 1003.84 L183.21 1003.90 L183.46 1003.96 L183.71 1004.02 L183.96 1004.08 L184.21 1004.13 L184.46 1004.19 L184.71 1004.25 L184.96 1004.31 L185.21 1004.37 L185.46 1004.42 L185.71 1004.48 L185.96 1004.54 L186.21 1004.60 L186.46 1004.66 L186.71 1004.71 L186.96 1004.77 L187.21 1004.83 L187.46 1004.89 L187.71 1004.95 L187.96 1005.00 L188.21 1005.06 L188.46 1005.12 L188.71 1005.18 L188.96 1005.24 L189.21 1005.29 L189.46 1005.35 L189.71 1005.41 L189.96 1005.47 L190.21 1005.53 L190.46 1005.58 L190.71 1005.64 L190.96 1005.70 L191.21 1005.76 L191.46 1005.82 L191.71 1005.87 L191.96 1005.93 L192.21 1005.99 L192.46 1006.05 L192.71 1006.11 L192.96 1006.16 L193.21 1006.22 L193.46 1006.28 L193.71 1006.34 L193.96 1006.40 L194.21 1006.45 L194.46 1006.51 L194.71 1006.57 L194.96 1006.63 L195.20 1006.69 L195.45 1006.74 L195.70 1006.80 L195.95 1006.86 L196.20 1006.92 L196.45 1006.98 L196.70 1007.03 L196.95 1007.09 L197.20 1007.15 L197.45 1007.21 L197.70 1007.27 L197.95 1007.32 L198.20 1007.38 L198.45 1007.44 L198.70 1007.50 L198.95 1007.56 L199.20 1007.61 L199.45 1007.67 L199.70 1007.73 L199.95 1007.79 L200.20 1007.86 L200.45 1007.93 L200.70 1007.99 L200.95 1008.06 L201.20 1008.13 L201.45 1008.20 L201.70 1008.27 L201.95 1008.34 L202.20 1008.41 L202.45 1008.48 L202.70 1008.55 L202.95 1008.62 L203.20 1008.69 L203.45 1008.75 L203.70 1008.82 L203.95 1008.89 L204.20 1008.96 L204.45 1009.03 L204.70 1009.10 L204.95 1009.17 L205.20 1009.24 L205.45 1009.31 L205.70 1009.38 L205.95 1009.45 L206.20 1009.52 L206.45 1009.58 L206.70 1009.65 L206.95 1009.72 L207.20 1009.79 L207.45 1009.86 L207.70 1009.93 L207.95 1010.00 L208.20 1010.07 L208.45 1010.14 L208.70 1010.21 L208.95 1010.28 L209.20 1010.35 L209.45 1010.41 L209.70 1010.48 L209.95 1010.55 L210.20 1010.62 L210.45 1010.69 L210.70 1010.76 L210.94 1010.83 L211.19 1010.90 L211.44 1010.97 L211.69 1011.04 L211.94 1011.11 L212.19 1011.18 L212.44 1011.24 L212.69 1011.31 L212.94 1011.38 L213.19 1011.45 L213.44 1011.52 L213.69 1011.59 L213.94 1011.66 L214.19 1011.73 L214.44 1011.80 L214.69 1011.87 L214.94 1011.94 L215.19 1012.01 L215.44 1012.07 L215.69 1012.14 L215.94 1012.21 L216.19 1012.28 L216.44 1012.35 L216.69 1012.42 L216.94 1012.49 L217.19 1012.56 L217.44 1012.63 L217.69 1012.70 L217.94 1012.77 L218.19 1012.85 L218.44 1012.92 L218.69 1013.00 L218.94 1013.07 L219.19 1013.14 L219.44 1013.22 L219.69 1013.29 L219.94 1013.37 L220.19 1013.44 L220.44 1013.52 L220.69 1013.59 L220.94 1013.67 L221.19 1013.74 L221.44 1013.82 L221.69 1013.89 L221.94 1013.97 L222.19 1014.04 L222.44 1014.11 L222.69 1014.19 L222.94 1014.26 L223.19 1014.34 L223.44 1014.41 L223.69 1014.49 L223.94 1014.56 L224.19 1014.64 L224.44 1014.71 L224.69 1014.79 L224.94 1014.86 L225.19 1014.94 L225.44 1015.01 L225.69 1015.08 L225.94 1015.16 L226.19 1015.23 L226.44 1015.31 L226.69 1015.38 L226.93 1015.46 L227.18 1015.53 L227.43 1015.61 L227.68 1015.68 L227.93 1015.76 L228.18 1015.83 L228.43 1015.90 L228.68 1015.98 L228.93 1016.05 L229.18 1016.13 L229.43 1016.20 L229.68 1016.28 L229.93 1016.35 L230.18 1016.43 L230.43 1016.50 L230.68 1016.58 L230.93 1016.65 L231.18 1016.73 L231.43 1016.80 L231.68 1016.87 L231.93 1016.95 L232.18 1017.02 L232.43 1017.10 L232.68 1017.17 L232.93 1017.25 L233.18 1017.32 L233.43 1017.40 L233.68 1017.47 L233.93 1017.55 L234.18 1017.62 L234.43 1017.69 L234.68 1017.77 L234.93 1017.84 L235.18 1017.92 L235.43 1017.99 L235.68 1018.07 L235.93 1018.14 L236.18 1018.22 L236.43 1018.29 L236.68 1018.37 L236.93 1018.44 L237.18 1018.52 L237.43 1018.59 L237.68 1018.66 L237.93 1018.74 L238.18 1018.81 L238.43 1018.89 L238.68 1018.96 L238.93 1019.04 L239.18 1019.11 L239.43 1019.19 L239.68 1019.26 L239.93 1019.34 L240.18 1019.41 L240.43 1019.49 L240.68 1019.56 L240.93 1019.63 L241.18 1019.71 L241.43 1019.78 L241.68 1019.86 L241.93 1019.93 L242.18 1020.01 L242.43 1020.08 L242.67 1020.16 L242.92 1020.23 L243.17 1020.31 L243.42 1020.38 L243.67 1020.45 L243.92 1020.53 L244.17 1020.60 L244.42 1020.68 L244.67 1020.75 L244.92 1020.83 L245.17 1020.90 L245.42 1020.98 L245.67 1021.04 L245.92 1021.11 L246.17 1021.17 L246.42 1021.23 L246.67 1021.30 L246.92 1021.36 L247.17 1021.42 L247.42 1021.49 L247.67 1021.55 L247.92 1021.61 L248.17 1021.68 L248.42 1021.74 L248.67 1021.80 L248.92 1021.86 L249.17 1021.93 L249.42 1021.99 L249.67 1022.05 L249.92 1022.12 L250.17 1022.18 L250.42 1022.24 L250.67 1022.31 L250.92 1022.37 L251.17 1022.43 L251.42 1022.50 L251.67 1022.56 L251.92 1022.62 L252.17 1022.69 L252.42 1022.75 L252.67 1022.81 L252.92 1022.87 L253.17 1022.94 L253.42 1023.00 L253.67 1023.06 L253.92 1023.13 L254.17 1023.19 L254.42 1023.25 L254.67 1023.32 L254.92 1023.38 L255.17 1023.44 L255.42 1023.51 L255.67 1023.57 L255.92 1023.63 L256.17 1023.70 L256.42 1023.76 L256.67 1023.82 L256.92 1023.88 L257.17 1023.95 L257.42 1024.01 L257.67 1024.07 L257.92 1024.14 L258.17 1024.20 L258.42 1024.26 L258.66 1024.33 L258.91 1024.39 L259.16 1024.45 L259.41 1024.52 L259.66 1024.58 L259.91 1024.64 L260.16 1024.71 L260.41 1024.77 L260.66 1024.83 L260.91 1024.90 L261.16 1024.96 L261.41 1025.02 L261.66 1025.08 L261.91 1025.15 L262.16 1025.21 L262.41 1025.27 L262.66 1025.34 L262.91 1025.40 L263.16 1025.46 L263.41 1025.53 L263.66 1025.59 L263.91 1025.65 L264.16 1025.72 L264.41 1025.78 L264.66 1025.84 L264.91 1025.91 L265.16 1025.97 L265.41 1026.03 L265.66 1026.09 L265.91 1026.16 L266.16 1026.22 L266.41 1026.28 L266.66 1026.35 L266.91 1026.41 L267.16 1026.47 L267.41 1026.54 L267.66 1026.60 L267.91 1026.66 L268.16 1026.73 L268.41 1026.79 L268.66 1026.85 L268.91 1026.92 L269.16 1026.98 L269.41 1027.04 L269.66 1027.10 L269.91 1027.17 L270.16 1027.23 L270.41 1027.29 L270.66 1027.36 L270.91 1027.42 L271.16 1027.48 L271.41 1027.55 L271.66 1027.61 L271.91 1027.67 L272.16 1027.74 L272.41 1027.80 L272.66 1027.86 L272.91 1027.93 L273.16 1027.99 L273.41 1028.06 L273.66 1028.12 L273.91 1028.19 L274.16 1028.26 L274.40 1028.33 L274.65 1028.39 L274.90 1028.46 L275.15 1028.53 L275.40 1028.60 L275.65 1028.66 L275.90 1028.73 L276.15 1028.80 L276.40 1028.87 L276.65 1028.93 L276.90 1029.00 L277.15 1029.07 L277.40 1029.14 L277.65 1029.20 L277.90 1029.27 L278.15 1029.34 L278.40 1029.41 L278.65 1029.47 L278.90 1029.54 L279.15 1029.61 L279.40 1029.68 L279.65 1029.74 L279.90 1029.81 L280.15 1029.88 L280.40 1029.95 L280.65 1030.01 L280.90 1030.08 L281.15 1030.15 L281.40 1030.22 L281.65 1030.28 L281.90 1030.35 L282.15 1030.42 L282.40 1030.49 L282.65 1030.55 L282.90 1030.62 L283.15 1030.69 L283.40 1030.76 L283.65 1030.82 L283.90 1030.89 L284.15 1030.96 L284.40 1031.03 L284.65 1031.09 L284.90 1031.16 L285.15 1031.23 L285.40 1031.30 L285.65 1031.36 L285.90 1031.43 L286.15 1031.50 L286.40 1031.57 L286.65 1031.63 L286.90 1031.70 L287.15 1031.77 L287.40 1031.84 L287.65 1031.90 L287.90 1031.97 L288.15 1032.04 L288.40 1032.11 L288.65 1032.17 L288.90 1032.24 L289.15 1032.31 L289.40 1032.38 L289.65 1032.44 L289.90 1032.51 L290.15 1032.58 L290.39 1032.65 L290.64 1032.71 L290.89 1032.78 L291.14 1032.85 L291.39 1032.92 L291.64 1032.98 L291.89 1033.05 L292.14 1033.12 L292.39 1033.19 L292.64 1033.25 L292.89 1033.32 L293.14 1033.39 L293.39 1033.46 L293.64 1033.53 L293.89 1033.59 L294.14 1033.66 L294.39 1033.73 L294.64 1033.80 L294.89 1033.86 L295.14 1033.93 L295.39 1034.00 L295.64 1034.10 L295.89 1034.20 L296.14 1034.30 L296.39 1034.40 L296.64 1034.50 L296.89 1034.60 L297.14 1034.70 L297.39 1034.80 L297.64 1034.90 L297.89 1035.00 L298.14 1035.10 L298.39 1035.20 L298.64 1035.30 L298.89 1035.40 L299.14 1035.50 L299.39 1035.60 L299.64 1035.70 L299.89 1035.80 L300.14 1035.91 L300.39 1036.01 L300.64 1036.11 L300.89 1036.21 L301.14 1036.31 L301.39 1036.41 L301.64 1036.51 L301.89 1036.61 L302.14 1036.71 L302.39 1036.81 L302.64 1036.91 L302.89 1037.01 L303.14 1037.11 L303.39 1037.21 L303.64 1037.31 L303.89 1037.41 L304.14 1037.51 L304.39 1037.61 L304.64 1037.71 L304.89 1037.81 L305.14 1037.91 L305.39 1038.01 L305.64 1038.12 L305.89 1038.22 L306.13 1038.32 L306.38 1038.42 L306.63 1038.52 L306.88 1038.62 L307.13 1038.72 L307.38 1038.82 L307.63 1038.92 L307.88 1039.02 L308.13 1039.12 L308.38 1039.22 L308.63 1039.32 L308.88 1039.42 L309.13 1039.52 L309.38 1039.62 L309.63 1039.72 L309.88 1039.82 L310.13 1039.92 L310.38 1040.02 L310.63 1040.12 L310.88 1040.22 L311.13 1040.33 L311.38 1040.43 L311.63 1040.53 L311.88 1040.63 L312.13 1040.73 L312.38 1040.83 L312.63 1040.93 L312.88 1041.03 L313.13 1041.13 L313.38 1041.23 L313.63 1041.33 L313.88 1041.43 L314.13 1041.53 L314.38 1041.63 L314.63 1041.73 L314.88 1041.86 L315.13 1042.03 L315.38 1042.20 L315.63 1042.38 L315.88 1042.55 L316.13 1042.73 L316.38 1042.90 L316.63 1043.08 L316.88 1043.25 L317.13 1043.42 L317.38 1043.60 L317.63 1043.77 L317.88 1043.95 L318.13 1044.12 L318.38 1044.30 L318.63 1044.47 L318.88 1044.65 L319.13 1044.82 L319.38 1044.99 L319.63 1045.17 L319.88 1045.34 L320.13 1045.52 L320.38 1045.69 L320.63 1045.87 L320.88 1046.04 L321.13 1046.21 L321.38 1046.39 L321.63 1046.56 L321.88 1046.74 L322.12 1046.91 L322.37 1047.09 L322.62 1047.26 L322.87 1047.43 L323.12 1047.61 L323.37 1047.78 L323.62 1047.96 L323.87 1048.13 L324.12 1048.31 L324.37 1048.48 L324.62 1048.66 L324.87 1048.83 L325.12 1049.00 L325.37 1049.18 L325.62 1049.35 L325.87 1049.53 L326.12 1049.70 L326.37 1049.88 L326.62 1050.05 L326.87 1050.22 L327.12 1050.40 L327.37 1050.57 L327.62 1050.75 L327.87 1050.92 L328.12 1051.10 L328.37 1051.27 L328.62 1051.44 L328.87 1051.61 L329.12 1051.77 L329.37 1051.93 L329.62 1052.09 L329.87 1052.25 L330.12 1052.41 L330.37 1052.57 L330.62 1052.73 L330.87 1052.89 L331.12 1053.05 L331.37 1053.21 L331.62 1053.37 L331.87 1053.53 L332.12 1053.69 L332.37 1053.85 L332.62 1054.01 L332.87 1054.17 L333.12 1054.33 L333.37 1054.49 L333.62 1054.65 L333.87 1054.81 L334.12 1054.97 L334.37 1055.13 L334.62 1055.29 L334.87 1055.45 L335.12 1055.61 L335.37 1055.77 L335.62 1055.93 L335.87 1056.09 L336.12 1056.25 L336.37 1056.41 L336.62 1056.57 L336.87 1056.73 L337.12 1056.89 L337.37 1057.05 L337.62 1057.21 L337.86 1057.37 L338.11 1057.53 L338.36 1057.69 L338.61 1057.85 L338.86 1058.01 L339.11 1058.17 L339.36 1058.33 L339.61 1058.49 L339.86 1058.65 L340.11 1058.81 L340.36 1058.97 L340.61 1059.13 L340.86 1059.29 L341.11 1059.45 L341.36 1059.61 L341.61 1059.77 L341.86 1059.93 L342.11 1060.09 L342.36 1060.25 L342.61 1060.41 L342.86 1060.69 L343.11 1060.97 L343.36 1061.24 L343.61 1061.52 L343.86 1061.80 L344.11 1062.07 L344.36 1062.35 L344.61 1062.63 L344.86 1062.91 L345.11 1063.18 L345.36 1063.46 L345.61 1063.74 L345.86 1064.01 L346.11 1064.29 L346.36 1064.57 L346.61 1064.84 L346.86 1065.12 L347.11 1065.40 L347.36 1065.68 L347.61 1065.95 L347.86 1066.23 L348.11 1066.51 L348.36 1066.78 L348.61 1067.06 L348.86 1067.34 L349.11 1067.61 L349.36 1067.89 L349.61 1068.17 L349.86 1068.44 L350.11 1068.72 L350.36 1069.00 L350.61 1069.28 L350.86 1069.55 L351.11 1070.07 L351.36 1070.63 L351.61 1071.19 L351.86 1071.76 L352.11 1072.32 L352.36 1072.88 L352.61 1073.45 L352.86 1074.01 L353.11 1074.57 L353.36 1075.14 L353.61 1075.70 L353.85 1076.26 L354.10 1076.83 L354.35 1077.39 L354.60 1077.95 L354.85 1078.52 L355.10 1079.08 L355.35 1079.64 L355.60 1080.20 L355.85 1080.77 L356.10 1081.33 L356.35 1081.89 L356.60 1082.66 L356.85 1083.46 L357.10 1084.27 L357.35 1085.07 L357.60 1085.88 L357.85 1086.69 L358.10 1087.49 L358.35 1088.30 L358.60 1089.10 L358.85 1089.91 L359.10 1090.71 L359.35 1091.52 L359.60 1093.10 L359.85 1095.83 L360.10 1098.56 L360.35 1101.28 L360.60 1104.00 L360.85 1104.50 L361.10 1105.00 L361.35 1105.50 L361.60 1106.00 L361.60 980.30Z" fill="#cfcfd2"/>
<path d="M44.30 980.30 L44.30 903.70 L44.55 903.72 L44.80 903.75 L45.05 903.77 L45.30 903.79 L45.55 903.82 L45.80 903.84 L46.04 903.87 L46.29 903.89 L46.54 909.92 L46.79 910.03 L47.04 910.13 L47.29 910.24 L47.54 910.35 L47.79 910.45 L48.04 921.80 L48.29 921.84 L48.54 921.87 L48.79 921.90 L49.03 921.93 L49.28 921.96 L49.53 921.99 L49.78 924.92 L50.03 925.33 L50.28 925.46 L50.53 925.60 L50.78 925.73 L51.03 925.87 L51.28 926.00 L51.53 926.14 L51.78 926.27 L52.03 926.41 L52.27 931.65 L52.52 933.43 L52.77 933.47 L53.02 933.51 L53.27 933.55 L53.52 933.59 L53.77 933.63 L54.02 933.66 L54.27 933.70 L54.52 933.74 L54.77 933.78 L55.02 933.82 L55.27 933.86 L55.51 933.89 L55.76 933.93 L56.01 933.97 L56.26 934.01 L56.51 934.05 L56.76 934.09 L57.01 934.12 L57.26 934.16 L57.51 934.20 L57.76 934.24 L58.01 934.28 L58.26 934.32 L58.50 934.35 L58.75 934.39 L59.00 937.55 L59.25 937.66 L59.50 937.77 L59.75 937.89 L60.00 938.00 L60.00 980.30Z" fill="#e8432a"/>
<path d="M48.20 980.30 L48.20 921.82 L48.44 921.86 L48.68 921.88 L48.92 921.91 L49.16 921.94 L49.40 921.98 L49.40 980.30Z" fill="#7a4a9a"/>
<path d="M54.90 980.30 L54.90 933.80 L55.14 933.84 L55.38 933.87 L55.62 933.91 L55.86 933.95 L56.10 933.98 L56.34 934.02 L56.58 934.06 L56.82 934.10 L57.06 934.13 L57.30 934.17 L57.30 980.30Z" fill="#ee6a55"/>
<path d="M57.30 980.30 L57.30 934.17 L57.53 934.20 L57.76 934.24 L57.99 934.27 L58.21 934.31 L58.44 934.35 L58.67 934.38 L58.90 937.50 L58.90 980.30Z" fill="#5a3a8a"/>
<path d="M65.60 980.30 L65.60 953.30 L65.82 953.54 L66.04 953.78 L66.26 954.02 L66.48 954.26 L66.70 954.50 L66.70 980.30Z" fill="#e8432a"/>
<path d="M66.70 980.30 L66.70 954.50 L66.94 958.90 L67.18 959.06 L67.42 959.23 L67.66 959.40 L67.90 959.56 L67.90 980.30Z" fill="#2b3a8f"/>
<path d="M67.90 980.30 L67.90 959.56 L68.13 959.72 L68.36 959.88 L68.59 960.04 L68.81 960.19 L69.04 960.35 L69.27 960.51 L69.50 960.67 L69.50 980.30Z" fill="#a4acda"/>
<path d="M69.50 980.30 L69.50 960.67 L69.73 960.83 L69.97 960.99 L70.20 961.15 L70.20 980.30Z" fill="#f08a78"/>
<path d="M70.20 980.30 L70.20 961.15 L70.40 961.29 L70.60 961.43 L70.80 961.57 L71.00 961.71 L71.00 980.30Z" fill="#a4acda"/>
<path d="M71.00 980.30 L71.00 961.71 L71.23 961.87 L71.47 962.03 L71.70 962.19 L71.93 962.35 L72.17 962.53 L72.40 962.70 L72.63 962.88 L72.87 963.05 L73.10 963.23 L73.33 963.41 L73.57 963.58 L73.80 963.76 L73.80 980.30Z" fill="#3a55b0"/>
<path d="M73.80 980.30 L73.80 963.76 L74.02 963.92 L74.24 964.09 L74.46 964.25 L74.68 964.42 L74.90 964.59 L74.90 980.30Z" fill="#a4acda"/>
<path d="M74.90 980.30 L74.90 964.59 L75.12 964.76 L75.35 964.93 L75.58 965.09 L75.80 965.26 L75.80 980.30Z" fill="#f08a78"/>
<path d="M75.80 980.30 L75.80 965.26 L76.00 965.42 L76.20 965.57 L76.40 965.72 L76.60 965.87 L76.60 980.30Z" fill="#a4acda"/>
<path d="M76.60 980.30 L76.60 965.87 L76.83 966.04 L77.07 966.22 L77.30 966.40 L77.53 966.57 L77.77 966.75 L78.00 966.92 L78.00 980.30Z" fill="#3a55b0"/>
<path d="M78.00 980.30 L78.00 966.92 L78.25 967.11 L78.50 967.30 L78.50 980.30Z" fill="#a4acda"/>
<path d="M78.50 980.30 L78.50 967.30 L78.73 967.50 L78.96 967.69 L79.19 967.89 L79.41 968.09 L79.64 968.28 L79.87 968.48 L80.10 968.68 L80.10 980.30Z" fill="#3a55b0"/>
<path d="M80.10 980.30 L80.10 968.68 L80.34 968.88 L80.57 969.09 L80.81 969.29 L81.05 969.50 L81.29 969.70 L81.53 969.91 L81.76 970.11 L82.00 970.32 L82.00 980.30Z" fill="#a4acda"/>
<path d="M82.00 980.30 L82.00 970.32 L82.24 970.53 L82.49 970.74 L82.73 970.95 L82.98 971.16 L83.22 971.37 L83.47 971.58 L83.71 971.79 L83.96 972.00 L84.20 972.21 L84.20 980.30Z" fill="#2b3a8f"/>
<path d="M84.20 980.30 L84.20 972.21 L84.42 972.40 L84.65 972.60 L84.88 972.79 L85.10 972.96 L85.33 973.10 L85.55 973.24 L85.78 973.38 L86.00 973.52 L86.00 980.30Z" fill="#a4acda"/>
<path d="M86.00 980.30 L86.00 973.52 L86.25 973.68 L86.50 973.84 L86.75 973.99 L87.00 974.15 L87.00 980.30Z" fill="#3a55b0"/>
<path d="M87.00 980.30 L87.00 974.15 L87.24 974.30 L87.48 974.45 L87.72 974.60 L87.96 974.75 L88.20 974.90 L88.20 980.30Z" fill="#a4acda"/>
<path d="M107.50 980.30 L107.50 982.39 L107.75 982.47 L108.00 982.55 L108.25 982.63 L108.50 982.71 L108.75 982.79 L109.00 982.88 L109.00 980.30Z" fill="#555"/>
<path d="M117.50 980.30 L117.50 985.07 L117.75 985.13 L118.00 985.19 L118.25 985.25 L118.50 985.31 L118.75 985.38 L119.00 985.44 L119.00 980.30Z" fill="#3a55b0"/>
<path d="M119.00 980.30 L119.00 985.44 L119.23 985.50 L119.47 985.55 L119.70 985.61 L119.93 985.67 L120.17 985.73 L120.40 985.79 L120.40 980.30Z" fill="#a4acda"/>
<path d="M120.40 980.30 L120.40 985.79 L120.64 985.85 L120.88 985.90 L121.11 985.96 L121.35 986.02 L121.59 986.08 L121.83 986.14 L122.06 986.20 L122.30 986.26 L122.30 980.30Z" fill="#3a55b0"/>
<path d="M122.30 980.30 L122.30 986.26 L122.53 986.32 L122.77 986.38 L123.00 986.43 L123.23 986.49 L123.47 986.55 L123.70 986.61 L123.70 980.30Z" fill="#a4acda"/>
<path d="M128.00 980.30 L128.00 987.68 L128.23 987.73 L128.47 987.79 L128.70 987.85 L128.93 987.91 L129.17 987.97 L129.40 988.03 L129.40 980.30Z" fill="#3a55b0"/>
<path d="M129.40 980.30 L129.40 988.03 L129.64 988.11 L129.88 988.19 L130.11 988.27 L130.35 988.35 L130.59 988.43 L130.83 988.51 L131.06 988.59 L131.30 988.66 L131.30 980.30Z" fill="#a4acda"/>
<path d="M131.30 980.30 L131.30 988.66 L131.55 988.75 L131.80 988.83 L132.05 988.91 L132.30 989.00 L132.55 989.08 L132.80 989.16 L133.05 989.24 L133.30 989.33 L133.55 989.41 L133.80 989.49 L133.80 980.30Z" fill="#2b3a8f"/>
<path d="M139.30 980.30 L139.30 991.32 L139.53 991.39 L139.75 991.47 L139.97 991.54 L140.20 991.62 L140.20 980.30Z" fill="#f08a78"/>
<path d="M143.30 980.30 L143.30 992.65 L143.52 992.72 L143.73 992.79 L143.95 992.86 L144.17 992.94 L144.38 993.01 L144.60 993.08 L144.60 980.30Z" fill="#e8432a"/>
<path d="M147.40 980.30 L147.40 994.01 L147.64 994.09 L147.88 994.17 L148.11 994.25 L148.35 994.32 L148.59 994.40 L148.83 994.48 L149.06 994.56 L149.30 994.64 L149.30 980.30Z" fill="#3a55b0"/>
<path d="M151.20 980.30 L151.20 995.27 L151.44 995.35 L151.67 995.43 L151.91 995.51 L152.15 995.59 L152.39 995.66 L152.62 995.74 L152.86 995.82 L153.10 995.90 L153.10 980.30Z" fill="#3a55b0"/>
<path d="M156.00 980.30 L156.00 996.74 L156.24 996.80 L156.47 996.87 L156.71 996.93 L156.95 996.99 L157.19 997.06 L157.43 997.12 L157.66 997.19 L157.90 997.25 L158.14 997.31 L158.38 997.38 L158.61 997.44 L158.85 997.51 L159.09 997.57 L159.33 997.63 L159.56 997.70 L159.80 997.76 L159.80 980.30Z" fill="#2b3a8f"/>
<path d="M163.60 980.30 L163.60 998.78 L163.83 998.85 L164.07 998.91 L164.30 998.97 L164.53 999.03 L164.77 999.10 L165.00 999.16 L165.23 999.22 L165.47 999.29 L165.70 999.35 L165.93 999.41 L166.17 999.47 L166.40 999.54 L166.40 980.30Z" fill="#3a55b0"/>
<path d="M166.40 980.30 L166.40 999.54 L166.63 999.60 L166.86 999.66 L167.09 999.72 L167.32 999.78 L167.55 999.85 L167.78 999.91 L168.01 999.97 L168.24 1000.03 L168.47 1000.09 L168.70 1000.16 L168.70 980.30Z" fill="#a4acda"/>
<path d="M168.70 980.30 L168.70 1000.16 L168.95 1000.22 L169.20 1000.29 L169.45 1000.36 L169.70 1000.42 L169.95 1000.49 L170.20 1000.56 L170.45 1000.63 L170.70 1000.69 L170.95 1000.76 L171.20 1000.83 L171.20 980.30Z" fill="#3a55b0"/>
<path d="M181.20 980.30 L181.20 1003.43 L181.44 1003.49 L181.67 1003.54 L181.91 1003.60 L182.15 1003.65 L182.39 1003.71 L182.62 1003.77 L182.86 1003.82 L183.10 1003.88 L183.10 980.30Z" fill="#e8432a"/>
<path d="M184.40 980.30 L184.40 1004.18 L184.63 1004.23 L184.87 1004.29 L185.10 1004.34 L185.33 1004.39 L185.57 1004.45 L185.80 1004.50 L185.80 980.30Z" fill="#3a55b0"/>
<path d="M187.70 980.30 L187.70 1004.94 L187.95 1005.00 L188.20 1005.06 L188.45 1005.12 L188.70 1005.18 L188.95 1005.23 L189.20 1005.29 L189.20 980.30Z" fill="#3a55b0"/>
<path d="M189.60 980.30 L189.60 1005.38 L189.84 1005.44 L190.09 1005.50 L190.33 1005.55 L190.57 1005.61 L190.81 1005.67 L191.06 1005.72 L191.30 1005.78 L191.54 1005.84 L191.79 1005.89 L192.03 1005.95 L192.27 1006.01 L192.51 1006.06 L192.76 1006.12 L193.00 1006.17 L193.00 980.30Z" fill="#c02848"/>
<path d="M196.80 980.30 L196.80 1007.06 L197.03 1007.11 L197.26 1007.16 L197.49 1007.22 L197.72 1007.27 L197.95 1007.32 L198.18 1007.38 L198.41 1007.43 L198.64 1007.48 L198.87 1007.54 L199.10 1007.59 L199.10 980.30Z" fill="#3a55b0"/>
<path d="M199.10 980.30 L199.10 1007.59 L199.34 1007.65 L199.58 1007.70 L199.82 1007.76 L200.06 1007.82 L200.30 1007.88 L200.54 1007.95 L200.78 1008.02 L201.02 1008.08 L201.26 1008.15 L201.50 1008.22 L201.50 980.30Z" fill="#2b3a8f"/>
<path d="M204.40 980.30 L204.40 1009.02 L204.64 1009.09 L204.89 1009.15 L205.13 1009.22 L205.38 1009.29 L205.62 1009.36 L205.87 1009.42 L206.11 1009.49 L206.36 1009.56 L206.60 1009.63 L206.60 980.30Z" fill="#5a50a8"/>
<path d="M206.60 980.30 L206.60 1009.63 L206.84 1009.69 L207.08 1009.76 L207.32 1009.83 L207.56 1009.89 L207.80 1009.96 L207.80 980.30Z" fill="#e8432a"/>
<path d="M209.10 980.30 L209.10 1010.32 L209.34 1010.38 L209.57 1010.45 L209.81 1010.52 L210.05 1010.58 L210.29 1010.65 L210.53 1010.71 L210.76 1010.78 L211.00 1010.85 L211.00 980.30Z" fill="#3a55b0"/>
<path d="M216.70 980.30 L216.70 1012.42 L216.95 1012.49 L217.20 1012.56 L217.45 1012.63 L217.70 1012.70 L217.70 980.30Z" fill="#3a55b0"/>
<path d="M217.70 980.30 L217.70 1012.70 L217.92 1012.77 L218.15 1012.83 L218.38 1012.90 L218.60 1012.97 L218.60 980.30Z" fill="#e8432a"/>
<path d="M219.20 980.30 L219.20 1013.15 L219.42 1013.21 L219.63 1013.28 L219.85 1013.34 L220.07 1013.41 L220.28 1013.47 L220.50 1013.54 L220.50 980.30Z" fill="#e8432a"/>
<path d="M225.20 980.30 L225.20 1014.94 L225.43 1015.01 L225.66 1015.08 L225.89 1015.14 L226.11 1015.21 L226.34 1015.28 L226.57 1015.35 L226.80 1015.42 L226.80 980.30Z" fill="#3a55b0"/>
<path d="M229.00 980.30 L229.00 1016.07 L229.25 1016.15 L229.50 1016.22 L229.75 1016.30 L230.00 1016.37 L230.00 980.30Z" fill="#e8432a"/>
<path d="M231.10 980.30 L231.10 1016.70 L231.33 1016.77 L231.57 1016.84 L231.80 1016.91 L232.03 1016.98 L232.27 1017.05 L232.50 1017.12 L232.73 1017.19 L232.97 1017.26 L233.20 1017.33 L233.20 980.30Z" fill="#3a55b0"/>
<path d="M238.90 980.30 L238.90 1019.03 L239.14 1019.10 L239.38 1019.17 L239.62 1019.25 L239.87 1019.32 L240.11 1019.39 L240.35 1019.46 L240.59 1019.53 L240.83 1019.61 L241.08 1019.68 L241.32 1019.75 L241.56 1019.82 L241.80 1019.90 L241.80 980.30Z" fill="#c02848"/>
<path d="M245.40 980.30 L245.40 1020.97 L245.63 1021.03 L245.87 1021.09 L246.10 1021.15 L246.33 1021.21 L246.57 1021.27 L246.80 1021.33 L247.03 1021.39 L247.27 1021.45 L247.50 1021.51 L247.50 980.30Z" fill="#a4acda"/>
<path d="M247.50 980.30 L247.50 1021.51 L247.70 1021.56 L247.90 1021.61 L248.10 1021.66 L248.30 1021.71 L248.30 980.30Z" fill="#3a55b0"/>
<path d="M252.60 980.30 L252.60 1022.79 L252.83 1022.85 L253.07 1022.91 L253.30 1022.97 L253.53 1023.03 L253.77 1023.09 L254.00 1023.15 L254.00 980.30Z" fill="#3a55b0"/>
<path d="M255.70 980.30 L255.70 1023.58 L255.95 1023.64 L256.20 1023.70 L256.45 1023.77 L256.70 1023.83 L256.95 1023.89 L257.20 1023.96 L257.45 1024.02 L257.70 1024.08 L257.95 1024.15 L258.20 1024.21 L258.45 1024.27 L258.70 1024.34 L258.70 980.30Z" fill="#6a72b8"/>
<path d="M266.90 980.30 L266.90 1026.41 L267.13 1026.47 L267.37 1026.53 L267.60 1026.58 L267.83 1026.64 L268.07 1026.70 L268.30 1026.76 L268.30 980.30Z" fill="#f08a78"/>
<path d="M277.10 980.30 L277.10 1029.05 L277.33 1029.12 L277.57 1029.18 L277.80 1029.24 L278.03 1029.31 L278.27 1029.37 L278.50 1029.43 L278.50 980.30Z" fill="#3a55b0"/>
<path d="M279.80 980.30 L279.80 1029.78 L280.03 1029.85 L280.27 1029.91 L280.50 1029.97 L280.73 1030.04 L280.97 1030.10 L281.20 1030.16 L281.20 980.30Z" fill="#3a55b0"/>
<path d="M281.20 980.30 L281.20 1030.16 L281.44 1030.23 L281.68 1030.29 L281.92 1030.36 L282.15 1030.42 L282.39 1030.48 L282.63 1030.55 L282.87 1030.61 L283.11 1030.68 L283.35 1030.74 L283.58 1030.81 L283.82 1030.87 L284.06 1030.94 L284.30 1031.00 L284.30 980.30Z" fill="#a4acda"/>
<path d="M288.40 980.30 L288.40 1032.11 L288.64 1032.17 L288.88 1032.24 L289.11 1032.30 L289.35 1032.36 L289.59 1032.43 L289.82 1032.49 L290.06 1032.56 L290.30 1032.62 L290.54 1032.69 L290.77 1032.75 L291.01 1032.81 L291.25 1032.88 L291.49 1032.94 L291.72 1033.01 L291.96 1033.07 L292.20 1033.14 L292.20 980.30Z" fill="#e3b4b8"/>
<path d="M292.20 980.30 L292.20 1033.14 L292.42 1033.19 L292.63 1033.25 L292.85 1033.31 L293.07 1033.37 L293.28 1033.43 L293.50 1033.49 L293.50 980.30Z" fill="#e8432a"/>
<path d="M293.50 980.30 L293.50 1033.49 L293.75 1033.55 L294.00 1033.62 L294.25 1033.69 L294.50 1033.76 L294.75 1033.82 L295.00 1033.89 L295.25 1033.96 L295.50 1034.04 L295.75 1034.14 L296.00 1034.24 L296.25 1034.34 L296.50 1034.44 L296.50 980.30Z" fill="#2b3a8f"/>
<path d="M296.50 980.30 L296.50 1034.44 L296.75 1034.54 L297.00 1034.64 L297.25 1034.74 L297.50 1034.84 L297.75 1034.94 L298.00 1035.04 L298.25 1035.14 L298.50 1035.24 L298.74 1035.34 L298.99 1035.45 L299.24 1035.55 L299.49 1035.65 L299.74 1035.75 L299.99 1035.85 L300.24 1035.95 L300.49 1036.05 L300.74 1036.15 L300.99 1036.25 L301.24 1036.35 L301.49 1036.45 L301.74 1036.55 L301.99 1036.65 L302.24 1036.75 L302.49 1036.85 L302.74 1036.95 L302.99 1037.05 L303.23 1037.15 L303.48 1037.25 L303.73 1037.35 L303.98 1037.45 L304.23 1037.55 L304.48 1037.65 L304.73 1037.75 L304.98 1037.85 L305.23 1037.95 L305.48 1038.05 L305.73 1038.15 L305.98 1038.25 L306.23 1038.35 L306.48 1038.45 L306.73 1038.55 L306.98 1038.65 L307.23 1038.75 L307.47 1038.85 L307.72 1038.96 L307.97 1039.06 L308.22 1039.16 L308.47 1039.26 L308.72 1039.36 L308.97 1039.46 L309.22 1039.56 L309.47 1039.66 L309.72 1039.76 L309.97 1039.86 L310.22 1039.96 L310.47 1040.06 L310.72 1040.16 L310.97 1040.26 L311.22 1040.36 L311.47 1040.46 L311.71 1040.56 L311.96 1040.66 L312.21 1040.76 L312.46 1040.86 L312.71 1040.96 L312.96 1041.06 L313.21 1041.16 L313.46 1041.26 L313.71 1041.36 L313.96 1041.46 L314.21 1041.56 L314.46 1041.66 L314.71 1041.76 L314.96 1041.91 L315.21 1042.08 L315.46 1042.26 L315.71 1042.43 L315.96 1042.61 L316.20 1042.78 L316.45 1042.95 L316.70 1043.13 L316.95 1043.30 L317.20 1043.48 L317.45 1043.65 L317.70 1043.82 L317.95 1044.00 L318.20 1044.17 L318.45 1044.35 L318.70 1044.52 L318.95 1044.69 L319.20 1044.87 L319.45 1045.04 L319.70 1045.22 L319.95 1045.39 L320.20 1045.57 L320.44 1045.74 L320.69 1045.91 L320.94 1046.09 L321.19 1046.26 L321.44 1046.44 L321.69 1046.61 L321.94 1046.78 L322.19 1046.96 L322.44 1047.13 L322.69 1047.31 L322.94 1047.48 L323.19 1047.65 L323.44 1047.83 L323.69 1048.00 L323.94 1048.18 L324.19 1048.35 L324.44 1048.52 L324.69 1048.70 L324.93 1048.87 L325.18 1049.05 L325.43 1049.22 L325.68 1049.39 L325.93 1049.57 L326.18 1049.74 L326.43 1049.92 L326.68 1050.09 L326.93 1050.26 L327.18 1050.44 L327.43 1050.61 L327.68 1050.79 L327.93 1050.96 L328.18 1051.14 L328.43 1051.31 L328.68 1051.48 L328.93 1051.64 L329.17 1051.80 L329.42 1051.96 L329.67 1052.12 L329.92 1052.28 L330.17 1052.44 L330.42 1052.60 L330.67 1052.76 L330.92 1052.92 L331.17 1053.08 L331.42 1053.24 L331.67 1053.40 L331.92 1053.56 L332.17 1053.72 L332.42 1053.88 L332.67 1054.04 L332.92 1054.20 L333.17 1054.36 L333.41 1054.52 L333.66 1054.68 L333.91 1054.84 L334.16 1055.00 L334.41 1055.16 L334.66 1055.32 L334.91 1055.48 L335.16 1055.64 L335.41 1055.80 L335.66 1055.96 L335.91 1056.12 L336.16 1056.28 L336.41 1056.44 L336.66 1056.60 L336.91 1056.75 L337.16 1056.91 L337.41 1057.07 L337.66 1057.23 L337.90 1057.39 L338.15 1057.55 L338.40 1057.71 L338.65 1057.87 L338.90 1058.03 L339.15 1058.19 L339.40 1058.35 L339.65 1058.51 L339.90 1058.67 L340.15 1058.83 L340.40 1058.99 L340.65 1059.15 L340.90 1059.31 L341.15 1059.47 L341.40 1059.63 L341.65 1059.79 L341.90 1059.95 L342.14 1060.11 L342.39 1060.27 L342.64 1060.45 L342.89 1060.72 L343.14 1061.00 L343.39 1061.28 L343.64 1061.55 L343.89 1061.83 L344.14 1062.11 L344.39 1062.38 L344.64 1062.66 L344.89 1062.94 L345.14 1063.21 L345.39 1063.49 L345.64 1063.77 L345.89 1064.04 L346.14 1064.32 L346.39 1064.60 L346.63 1064.87 L346.88 1065.15 L347.13 1065.42 L347.38 1065.70 L347.63 1065.98 L347.88 1066.25 L348.13 1066.53 L348.38 1066.81 L348.63 1067.08 L348.88 1067.36 L349.13 1067.64 L349.38 1067.91 L349.63 1068.19 L349.88 1068.47 L350.13 1068.74 L350.38 1069.02 L350.63 1069.30 L350.87 1069.57 L351.12 1070.11 L351.37 1070.67 L351.62 1071.23 L351.87 1071.79 L352.12 1072.35 L352.37 1072.92 L352.62 1073.48 L352.87 1074.04 L353.12 1074.60 L353.37 1075.17 L353.62 1075.73 L353.87 1076.29 L354.12 1076.85 L354.37 1077.42 L354.62 1077.98 L354.87 1078.54 L355.11 1079.10 L355.36 1079.67 L355.61 1080.23 L355.86 1080.79 L356.11 1081.35 L356.36 1081.91 L356.61 1082.68 L356.86 1083.49 L357.11 1084.29 L357.36 1085.10 L357.61 1085.90 L357.86 1086.71 L358.11 1087.51 L358.36 1088.31 L358.61 1089.12 L358.86 1089.92 L359.11 1090.73 L359.36 1091.53 L359.60 1093.14 L359.85 1095.86 L360.10 1098.58 L360.35 1101.30 L360.60 1104.00 L360.85 1104.50 L361.10 1105.00 L361.35 1105.50 L361.60 1106.00 L361.60 980.30Z" fill="#a4acda"/>
<path d="M297.60 980.30 L297.60 1034.88 L297.85 1034.99 L298.10 1035.09 L298.35 1035.19 L298.60 1035.29 L298.60 980.30Z" fill="#3a55b0"/>
<path d="M302.30 980.30 L302.30 1036.77 L302.54 1036.87 L302.78 1036.97 L303.02 1037.06 L303.26 1037.16 L303.50 1037.26 L303.50 980.30Z" fill="#3a55b0"/>
<path d="M303.70 980.30 L303.70 1037.34 L303.95 1037.44 L304.20 1037.54 L304.45 1037.64 L304.70 1037.74 L304.70 980.30Z" fill="#2b3a8f"/>
<path d="M308.40 980.30 L308.40 1039.23 L308.64 1039.32 L308.88 1039.42 L309.12 1039.52 L309.36 1039.61 L309.60 1039.71 L309.60 980.30Z" fill="#3a55b0"/>
<path d="M312.90 980.30 L312.90 1041.04 L313.15 1041.14 L313.40 1041.24 L313.65 1041.34 L313.90 1041.44 L313.90 980.30Z" fill="#3a55b0"/>
<path d="M314.90 980.30 L314.90 1041.87 L315.15 1042.04 L315.40 1042.22 L315.65 1042.39 L315.90 1042.57 L315.90 980.30Z" fill="#2b3a8f"/>
<path d="M318.00 980.30 L318.00 1044.03 L318.25 1044.21 L318.50 1044.38 L318.75 1044.56 L319.00 1044.73 L319.00 980.30Z" fill="#3a55b0"/>
<path d="M321.00 980.30 L321.00 1046.13 L321.24 1046.29 L321.48 1046.46 L321.72 1046.63 L321.96 1046.80 L322.20 1046.96 L322.20 980.30Z" fill="#3a55b0"/>
<path d="M325.10 980.30 L325.10 1048.99 L325.33 1049.15 L325.57 1049.31 L325.80 1049.48 L326.03 1049.64 L326.27 1049.80 L326.50 1049.96 L326.73 1050.13 L326.97 1050.29 L327.20 1050.45 L327.20 980.30Z" fill="#2b3a8f"/>
<path d="M331.30 980.30 L331.30 1053.16 L331.54 1053.32 L331.78 1053.47 L332.02 1053.63 L332.26 1053.78 L332.50 1053.93 L332.50 980.30Z" fill="#3a55b0"/>
<path d="M336.40 980.30 L336.40 1056.43 L336.64 1056.58 L336.88 1056.74 L337.12 1056.89 L337.36 1057.04 L337.60 1057.20 L337.60 980.30Z" fill="#3a55b0"/>
<path d="M339.40 980.30 L339.40 1058.35 L339.64 1058.50 L339.88 1058.66 L340.12 1058.81 L340.36 1058.97 L340.60 1059.12 L340.60 980.30Z" fill="#3a55b0"/>
<path d="M342.50 980.30 L342.50 1060.34 L342.73 1060.55 L342.97 1060.81 L343.20 1061.07 L343.43 1061.32 L343.67 1061.58 L343.90 1061.84 L343.90 980.30Z" fill="#2b3a8f"/>
<path d="M347.60 980.30 L347.60 1065.94 L347.85 1066.22 L348.10 1066.50 L348.35 1066.77 L348.60 1067.05 L348.85 1067.33 L349.10 1067.60 L349.10 980.30Z" fill="#a04050"/>
<path d="M352.70 980.30 L352.70 1073.66 L352.95 1074.22 L353.20 1074.79 L353.45 1075.35 L353.70 1075.91 L353.70 980.30Z" fill="#3a55b0"/>
<path d="M355.80 980.30 L355.80 1080.65 L356.05 1081.21 L356.30 1081.77 L356.55 1082.48 L356.80 1083.29 L356.80 980.30Z" fill="#3a55b0"/>
<path d="M359.90 980.30 L359.90 1096.36 L360.14 1098.98 L360.38 1101.60 L360.62 1104.04 L360.86 1104.52 L361.10 1105.00 L361.10 980.30Z" fill="#3a55b0"/>
<path d="M299.50 980.30 L299.50 1035.65 L299.73 1035.74 L299.96 1035.83 L300.19 1035.92 L300.41 1036.02 L300.64 1036.11 L300.87 1036.20 L301.10 1036.29 L301.10 980.30Z" fill="#d4d4dc"/>
<path d="M306.00 980.30 L306.00 1038.26 L306.23 1038.35 L306.46 1038.45 L306.69 1038.54 L306.91 1038.63 L307.14 1038.72 L307.37 1038.81 L307.60 1038.91 L307.60 980.30Z" fill="#d4d4dc"/>
<path d="M344.60 980.30 L344.60 1062.62 L344.84 1062.88 L345.07 1063.14 L345.31 1063.40 L345.55 1063.66 L345.78 1063.93 L346.02 1064.19 L346.25 1064.45 L346.49 1064.71 L346.73 1064.97 L346.96 1065.24 L347.20 1065.50 L347.20 980.30Z" fill="#d4d4dc"/>
<path d="M349.60 980.30 L349.60 1068.16 L349.84 1068.43 L350.08 1068.69 L350.32 1068.96 L350.56 1069.22 L350.80 1069.49 L351.04 1069.92 L351.28 1070.46 L351.52 1071.00 L351.76 1071.54 L352.00 1072.08 L352.00 980.30Z" fill="#d4d4dc"/>
<path d="M310.50 980.30 L310.50 1040.07 L310.74 1040.17 L310.98 1040.26 L311.22 1040.36 L311.46 1040.46 L311.70 1040.55 L311.70 980.30Z" fill="#d4d4dc"/>
<line x1="31.5" y1="855.5" x2="31.5" y2="1105.5" stroke="#999" stroke-width="1"/>
<line x1="29.0" y1="1104.5" x2="31.5" y2="1104.5" stroke="#999" stroke-width="1"/>
<text font-family='"DejaVu Sans","Liberation Sans",sans-serif' font-size="12.6" font-weight="normal" text-anchor="end" fill="#222" x="31.8" y="1105.4" >3</text>
<line x1="29.0" y1="1063.1" x2="31.5" y2="1063.1" stroke="#999" stroke-width="1"/>
<text font-family='"DejaVu Sans","Liberation Sans",sans-serif' font-size="12.6" font-weight="normal" text-anchor="end" fill="#222" x="31.8" y="1064.0" >2</text>
<line x1="29.0" y1="1021.7" x2="31.5" y2="1021.7" stroke="#999" stroke-width="1"/>
<text font-family='"DejaVu Sans","Liberation Sans",sans-serif' font-size="12.6" font-weight="normal" text-anchor="end" fill="#222" x="31.8" y="1022.5999999999999" >1</text>
<line x1="29.0" y1="980.3" x2="31.5" y2="980.3" stroke="#999" stroke-width="1"/>
<text font-family='"DejaVu Sans","Liberation Sans",sans-serif' font-size="12.6" font-weight="normal" text-anchor="end" fill="#222" x="31.8" y="981.1999999999999" >0</text>
<line x1="29.0" y1="938.9" x2="31.5" y2="938.9" stroke="#999" stroke-width="1"/>
<text font-family='"DejaVu Sans","Liberation Sans",sans-serif' font-size="12.6" font-weight="normal" text-anchor="end" fill="#222" x="31.8" y="939.8" >1</text>
<line x1="29.0" y1="897.5" x2="31.5" y2="897.5" stroke="#999" stroke-width="1"/>
<text font-family='"DejaVu Sans","Liberation Sans",sans-serif' font-size="12.6" font-weight="normal" text-anchor="end" fill="#222" x="31.8" y="898.4" >2</text>
<line x1="29.0" y1="856.1" x2="31.5" y2="856.1" stroke="#999" stroke-width="1"/>
<text font-family='"DejaVu Sans","Liberation Sans",sans-serif' font-size="12.6" font-weight="normal" text-anchor="end" fill="#222" x="31.8" y="856.9999999999999" >3</text>
<line x1="29.5" y1="980.3" x2="362" y2="980.3" stroke="#111" stroke-width="1.4"/>
<line x1="32.2" y1="925.8" x2="361.8" y2="925.8" stroke="#222" stroke-width="1.5" stroke-dasharray="5.3 3.83"/>
<line x1="32.2" y1="1034.3" x2="361.8" y2="1034.3" stroke="#222" stroke-width="1.5" stroke-dasharray="5.3 3.83"/>
<text font-family='"DejaVu Sans","Liberation Sans",sans-serif' font-size="15.2" font-weight="bold" text-anchor="start" fill="#111" textLength="75.2" lengthAdjust="spacingAndGlyphs" x="48.3" y="875.0" >Luminal B</text>
<text font-family='"DejaVu Sans","Liberation Sans",sans-serif' font-size="15.2" font-weight="bold" text-anchor="start" fill="#111" textLength="75.2" lengthAdjust="spacingAndGlyphs" x="267.6" y="1104.8" >Luminal A</text>
<text font-family='"Liberation Sans","DejaVu Sans",sans-serif' font-size="12" font-weight="bold" text-anchor="start" fill="#111" textLength="46.6" lengthAdjust="spacingAndGlyphs" x="317.0" y="920.3" >p ≤ 0.05</text>
<text font-family='"Liberation Sans","DejaVu Sans",sans-serif' font-size="12" font-weight="bold" text-anchor="start" fill="#111" textLength="46.8" lengthAdjust="spacingAndGlyphs" x="45.9" y="1048.9" >p ≤ 0.05</text>
<text font-family='"DejaVu Sans Condensed","DejaVu Sans","Liberation Sans",sans-serif' font-size="11.8" font-weight="bold" text-anchor="middle" fill="#111" stroke="#111" stroke-width="0.28" textLength="124.5" lengthAdjust="spacingAndGlyphs" transform="translate(18.8,972.5) rotate(-90)" >-log (GSEA p-value)</text>
<text font-family='"Liberation Sans","DejaVu Sans",sans-serif' font-size="22.2" font-weight="normal" text-anchor="start" fill="#111" x="-0.3" y="841.9" >F</text>
<rect x="52.5" y="1136.3" width="11.3" height="2.2" fill="#e8432a"/>
<rect x="172" y="1136.3" width="11.3" height="2.2" fill="#3a55b0"/>
<rect x="275.5" y="1136.3" width="11.3" height="2.2" fill="#bdbdbd"/>
<text font-family='"DejaVu Sans","Liberation Sans",sans-serif' font-size="11.8" font-weight="normal" text-anchor="start" fill="#111" textLength="75.5" lengthAdjust="spacingAndGlyphs" x="67.5" y="1141.5" >E2F1-related</text>
<text font-family='"DejaVu Sans","Liberation Sans",sans-serif' font-size="11.8" font-weight="normal" text-anchor="start" fill="#111" textLength="62.5" lengthAdjust="spacingAndGlyphs" x="186" y="1141.5" >ER-related</text>
<text font-family='"DejaVu Sans","Liberation Sans",sans-serif' font-size="11.8" font-weight="normal" text-anchor="start" fill="#111" textLength="32.5" lengthAdjust="spacingAndGlyphs" x="290" y="1141.5" >Other</text>
<defs>
<linearGradient id="gr1" x1="0" y1="0" x2="0" y2="1"><stop offset="0" stop-color="#f3888a"/><stop offset="1" stop-color="#ea3f48"/></linearGradient>
<linearGradient id="gr2" x1="0" y1="0" x2="0" y2="1"><stop offset="0" stop-color="#e8707a"/><stop offset="1" stop-color="#dc3040"/></linearGradient>
<linearGradient id="gb1" x1="0" y1="0" x2="0" y2="1"><stop offset="0" stop-color="#4f86d8"/><stop offset="1" stop-color="#2c55a8"/></linearGradient>
<linearGradient id="gb2" x1="0" y1="0" x2="0" y2="1"><stop offset="0" stop-color="#6a9be0"/><stop offset="1" stop-color="#3a68bd"/></linearGradient>
<linearGradient id="gw1" x1="0" y1="0" x2="0" y2="1"><stop offset="0" stop-color="#fafafa"/><stop offset="1" stop-color="#d9d9d9"/></linearGradient>
<linearGradient id="gw2" x1="0" y1="0" x2="0" y2="1"><stop offset="0" stop-color="#c8c8c8"/><stop offset="1" stop-color="#adadad"/></linearGradient>
</defs>
<path d="M449.5 934.8 L489.6 920.5 L616.6 928.0 M449.5 976.9 L489.6 957.6 L616.6 966.9 M449.5 1018 L489.6 992.6 L616.6 1005.1 L591 1035.3 L449.5 1018 M489.6 920.5 V992.6" fill="none" stroke="#9a9a9a" stroke-width="1"/>
<path d="M449.5 934.8 V1018 M445.5 934.8 H449.5 M445.5 976.9 H449.5 M445.5 1018 H449.5 M495.5 1023.6 V1027.6 M541.4 1029.2 V1033.2 M591 1035.3 V1039.3 M604 1020 l3 1.2" fill="none" stroke="#9a9a9a" stroke-width="1"/>
<path d="M496.0 999.6 L508.5 997.3 L511.4 1000.0 L499.5 1003.3 Z" fill="#e8585e"/>
<path d="M470.4 952.3 L485.3 954.2 L485.3 1016.3 L470.4 1014.4 Z" fill="url(#gr1)"/>
<path d="M485.3 954.2 L494.7 951.2 L494.7 1010.7 L485.3 1016.3 Z" fill="url(#gr2)"/>
<path d="M470.4 952.3 L480.2 949.6 L494.7 951.2 L485.3 954.2 Z" fill="#f5a0a0"/>
<path d="M531.4 984.5 Q531.4 982.7 533.2 982.7 L546.5 983.6 L548.3 985.3 L548.3 1007.8 L533 1006.8 Q531.4 1006.6 531.4 1005 Z" fill="url(#gb1)"/>
<path d="M548.3 985.3 L553.3 983.4 L553.3 1004.6 L548.3 1007.8 Z" fill="#2a4f9c"/>
<path d="M533.2 982.7 L538.5 981.0 L552 981.8 L553.3 983.4 L548.3 985.3 L546.5 983.6 Z" fill="#6d9fe6"/>
<path d="M515.2 1012.2 L521.2 1007.9 L536.2 1009.0 L538 1010.6 L538 1018.2 L532.5 1021.6 L516.8 1020.4 Q515.2 1020.2 515.2 1018.6 Z" fill="url(#gb2)"/>
<path d="M515.2 1012.2 L521.2 1007.9 L536.2 1009.0 L538 1010.6 L532.2 1013.6 L516.6 1012.6 Z" fill="#78a6e8"/>
<path d="M532.2 1013.6 L538 1010.6 L538 1018.2 L532.5 1021.6 Z" fill="#3560b5"/>
<path d="M575.2 958.0 L592.0 959.0 L592.0 1011.6 L575.2 1010.4 Z" fill="url(#gw1)" stroke="#b5b5b5" stroke-width="0.8"/>
<path d="M592.0 959.0 L597.1 956.2 L597.1 1008.0 L592.0 1011.6 Z" fill="url(#gw2)" stroke="#aaa" stroke-width="0.6"/>
<path d="M575.2 958.0 L580.5 953.0 L596.0 953.8 L597.1 956.2 L592.0 959.0 Z" fill="#f7f7f7" stroke="#b5b5b5" stroke-width="0.8"/>
<path d="M561.2 1018.0 L567.0 1013.4 L583.4 1014.5 L584.8 1016.0 L584.8 1022.2 L579.0 1025.8 L562.6 1024.6 Q561.2 1024.4 561.2 1023 Z" fill="#ececec" stroke="#b0b0b0" stroke-width="0.8"/>
<path d="M561.2 1018.0 L567.0 1013.4 L583.4 1014.5 L584.8 1016.0 L579.0 1019.4 L562.4 1018.4 Z" fill="#dcdcdc" stroke="#b8b8b8" stroke-width="0.6"/>
<path d="M579.0 1019.4 L584.8 1016.0 L584.8 1022.2 L579.0 1025.8 Z" fill="#c4c4c4"/>
<text font-family='"DejaVu Sans","Liberation Sans",sans-serif' font-size="25" font-weight="normal" text-anchor="start" fill="#111" textLength="30.5" lengthAdjust="spacingAndGlyphs" x="466.8" y="960.2" stroke="#111" stroke-width="0.35">***</text>
<text font-family='"DejaVu Sans","Liberation Sans",sans-serif' font-size="25" font-weight="normal" text-anchor="start" fill="#111" textLength="20.5" lengthAdjust="spacingAndGlyphs" x="549.2" y="1005.2" stroke="#111" stroke-width="0.35">**</text>
<text font-family='"DejaVu Sans","Liberation Sans",sans-serif' font-size="12" font-weight="bold" text-anchor="end" fill="#111" x="438.6" y="939.9" >1</text>
<text font-family='"DejaVu Sans Condensed","DejaVu Sans","Liberation Sans",sans-serif' font-size="12.5" font-weight="bold" text-anchor="end" fill="#111" stroke="#111" stroke-width="0.28" textLength="19" lengthAdjust="spacingAndGlyphs" x="439.4" y="981.4" >0,5</text>
<text font-family='"DejaVu Sans","Liberation Sans",sans-serif' font-size="12" font-weight="bold" text-anchor="end" fill="#111" x="440.8" y="1021.6" >0</text>
<text font-family='"DejaVu Sans Condensed","DejaVu Sans","Liberation Sans",sans-serif' font-size="12.5" font-weight="bold" text-anchor="start" fill="#111" stroke="#111" stroke-width="0.28" textLength="62.5" lengthAdjust="spacingAndGlyphs" x="622.7" y="1016.4" >Luminal A</text>
<text font-family='"DejaVu Sans Condensed","DejaVu Sans","Liberation Sans",sans-serif' font-size="12.5" font-weight="bold" text-anchor="start" fill="#111" stroke="#111" stroke-width="0.28" textLength="60.2" lengthAdjust="spacingAndGlyphs" x="611.5" y="1030.2" >Luminal B</text>
<text font-family='"DejaVu Sans Condensed","DejaVu Sans","Liberation Sans",sans-serif' font-size="12.5" font-weight="bold" text-anchor="middle" fill="#111" stroke="#111" stroke-width="0.28" textLength="156" lengthAdjust="spacingAndGlyphs" transform="translate(409.0,999.0) rotate(-90)" >Geneset group frequency</text>
<text font-family='"Liberation Sans","DejaVu Sans",sans-serif' font-size="12.3" font-weight="bold" text-anchor="end" fill="#111" textLength="80" lengthAdjust="spacingAndGlyphs" transform="translate(477.3,1041.6) rotate(-41)" >E2F1-related</text>
<text font-family='"Liberation Sans","DejaVu Sans",sans-serif' font-size="12.3" font-weight="bold" text-anchor="end" fill="#111" textLength="67" lengthAdjust="spacingAndGlyphs" transform="translate(523.8,1047.4) rotate(-41)" >ER-related</text>
<text font-family='"Liberation Sans","DejaVu Sans",sans-serif' font-size="12.3" font-weight="bold" text-anchor="end" fill="#111" textLength="36" lengthAdjust="spacingAndGlyphs" transform="translate(568.6,1052.6) rotate(-41)" >Other</text>
<text font-family='"Liberation Sans","DejaVu Sans",sans-serif' font-size="23" font-weight="normal" text-anchor="start" fill="#111" x="401.1" y="879.6" >G</text>
</svg>
</body></html>
